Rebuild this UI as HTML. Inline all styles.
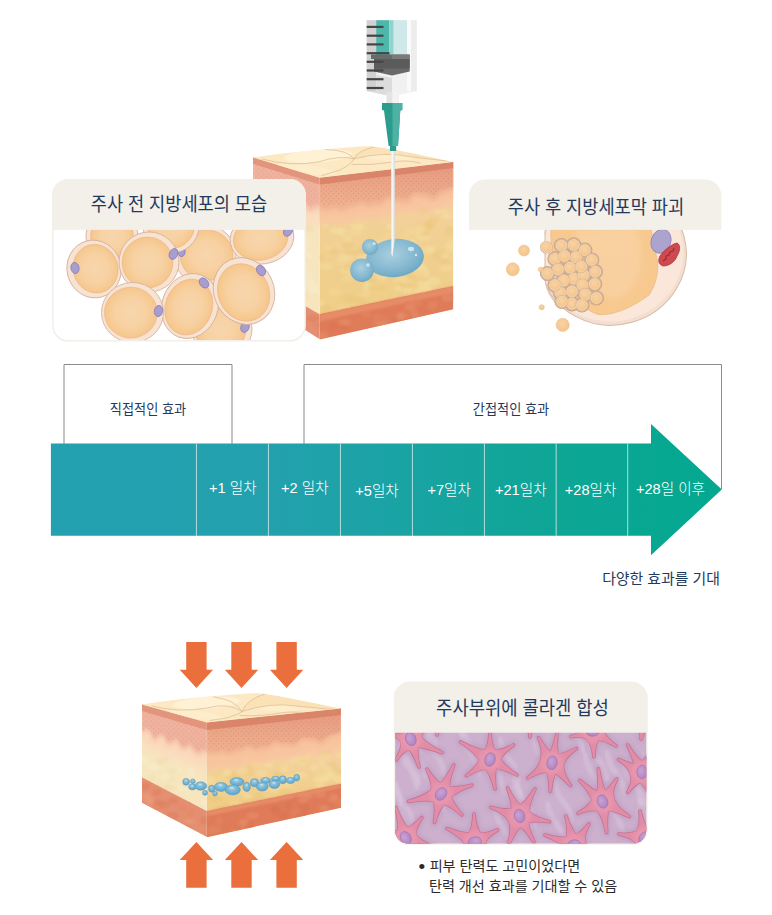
<!DOCTYPE html>
<html lang="ko"><head><meta charset="utf-8"><title>주사 효과 타임라인</title>
<style>
html,body{margin:0;padding:0;background:#fff;}
body{width:772px;height:915px;overflow:hidden;font-family:'Liberation Sans','Noto Sans CJK KR','NanumGothic',sans-serif;}
svg{display:block;}
</style></head><body>
<svg width="772" height="915" viewBox="0 0 772 915">
<defs>
<linearGradient id="gbar" x1="0" x2="1" y1="0" y2="0">
 <stop offset="0" stop-color="#24a0b1"/><stop offset="0.35" stop-color="#22a1ad"/><stop offset="0.75" stop-color="#0ea696"/><stop offset="1" stop-color="#03a88f"/>
</linearGradient>
<radialGradient id="gfat" cx="0.5" cy="0.5" r="0.55">
 <stop offset="0" stop-color="#f7d6ad"/><stop offset="0.55" stop-color="#f7d1a2"/><stop offset="0.85" stop-color="#f6c88e"/><stop offset="1" stop-color="#f3c083"/>
</radialGradient>
<radialGradient id="gblob" cx="0.45" cy="0.4" r="0.65">
 <stop offset="0" stop-color="#a9cfe0"/><stop offset="0.6" stop-color="#86b9d1"/><stop offset="1" stop-color="#6aa5c2"/>
</radialGradient>
<radialGradient id="gnuc" cx="0.4" cy="0.4" r="0.7"><stop offset="0" stop-color="#c9a3d3"/><stop offset="1" stop-color="#ab80be"/></radialGradient>
<radialGradient id="gblob2" cx="0.45" cy="0.35" r="0.7"><stop offset="0" stop-color="#9fd0e4"/><stop offset="0.55" stop-color="#74b3d3"/><stop offset="1" stop-color="#5a9ec4"/></radialGradient>
<radialGradient id="gsph" cx="0.45" cy="0.4" r="0.6">
 <stop offset="0" stop-color="#f9d3a4"/><stop offset="1" stop-color="#f5c388"/>
</radialGradient>
<filter id="blur2" x="-10%" y="-20%" width="120%" height="140%"><feGaussianBlur stdDeviation="2"/></filter>
<filter id="blur1" x="-10%" y="-20%" width="120%" height="140%"><feGaussianBlur stdDeviation="1"/></filter>
<filter id="blur3" x="-10%" y="-20%" width="120%" height="140%"><feGaussianBlur stdDeviation="3.5"/></filter>
<pattern id="dots" width="5" height="5" patternUnits="userSpaceOnUse"><circle cx="1.2" cy="1.2" r="0.7" fill="#dd7f68" opacity="0.55"/><circle cx="3.7" cy="3.7" r="0.7" fill="#dd7f68" opacity="0.55"/></pattern>
<pattern id="fatpat" width="14" height="12" patternUnits="userSpaceOnUse"><ellipse cx="4" cy="3.5" rx="4" ry="3" fill="#f8e0a4" opacity="0.55"/><ellipse cx="11" cy="9" rx="4" ry="3" fill="#f8e0a4" opacity="0.55"/></pattern>
<clipPath id="clipCard1"><path d="M53.600 229.500H304.400V325.600a14.500 14.500 0 0 1-14.500 14.500H68.100a14.500 14.500 0 0 1-14.500-14.500Z"/></clipPath>
<clipPath id="clipCard2"><rect x="470" y="229.500" width="253" height="115"/></clipPath>
<clipPath id="clipCard3"><path d="M395.200 732H646.200V830.500a13 13 0 0 1-13 13H408.200a13 13 0 0 1-13-13Z"/></clipPath>
</defs>
<g id="skinA">
<clipPath id="acr"><path d="M319.5 177.8L453.3 162L453.3 309.3L319.5 339.4Z"/></clipPath>
<clipPath id="acl"><path d="M253 157.5L320.3 177.8L320.3 339.4L253 297.5Z"/></clipPath>
<g clip-path="url(#acl)">
<path d="M319.5 177.8 L317.8 177.3 L316.2 176.8 L314.5 176.3 L312.9 175.8 L311.2 175.3 L309.5 174.8 L307.9 174.2 L306.2 173.7 L304.5 173.2 L302.9 172.7 L301.2 172.2 L299.6 171.7 L297.9 171.2 L296.2 170.7 L294.6 170.2 L292.9 169.7 L291.2 169.2 L289.6 168.7 L287.9 168.2 L286.2 167.7 L284.6 167.1 L282.9 166.6 L281.3 166.1 L279.6 165.6 L277.9 165.1 L276.3 164.6 L274.6 164.1 L272.9 163.6 L271.3 163.1 L269.6 162.6 L268.0 162.1 L266.3 161.6 L264.6 161.1 L263.0 160.5 L261.3 160.0 L259.6 159.5 L258.0 159.0 L256.3 158.5 L254.7 158.0 L253.0 157.5 L253.0 297.5 L254.7 298.5 L256.3 299.6 L258.0 300.6 L259.6 301.7 L261.3 302.7 L263.0 303.8 L264.6 304.8 L266.3 305.9 L268.0 306.9 L269.6 308.0 L271.3 309.0 L272.9 310.1 L274.6 311.1 L276.3 312.2 L277.9 313.2 L279.6 314.3 L281.3 315.3 L282.9 316.4 L284.6 317.4 L286.2 318.4 L287.9 319.5 L289.6 320.5 L291.2 321.6 L292.9 322.6 L294.6 323.7 L296.2 324.7 L297.9 325.8 L299.6 326.8 L301.2 327.9 L302.9 328.9 L304.5 330.0 L306.2 331.0 L307.9 332.1 L309.5 333.1 L311.2 334.2 L312.9 335.2 L314.5 336.3 L316.2 337.3 L317.8 338.4 L319.5 339.4Z" fill="#f6e5bd" />
<g filter="url(#blur1)"><ellipse cx="309.6" cy="274.0" rx="4.1" ry="3.9" fill="#f7e8c4" opacity="0.6"/><ellipse cx="307.4" cy="243.9" rx="5.0" ry="3.7" fill="#f7e8c4" opacity="0.6"/><ellipse cx="284.2" cy="261.7" rx="5.3" ry="4.3" fill="#f7e8c4" opacity="0.6"/><ellipse cx="266.9" cy="238.4" rx="5.3" ry="2.7" fill="#f9ecca" opacity="0.6"/><ellipse cx="273.6" cy="255.5" rx="5.0" ry="3.5" fill="#f9ecca" opacity="0.6"/><ellipse cx="272.0" cy="247.8" rx="5.2" ry="3.3" fill="#f1deb0" opacity="0.6"/><ellipse cx="274.9" cy="225.8" rx="3.8" ry="3.2" fill="#f7e8c4" opacity="0.6"/><ellipse cx="306.6" cy="255.6" rx="5.6" ry="4.2" fill="#f9ecca" opacity="0.6"/><ellipse cx="259.1" cy="212.6" rx="4.2" ry="3.7" fill="#f7e8c4" opacity="0.6"/><ellipse cx="299.9" cy="226.0" rx="5.7" ry="4.4" fill="#f1deb0" opacity="0.6"/><ellipse cx="264.6" cy="253.5" rx="5.1" ry="4.4" fill="#f1deb0" opacity="0.6"/><ellipse cx="261.4" cy="280.5" rx="5.3" ry="2.9" fill="#f9ecca" opacity="0.6"/><ellipse cx="270.1" cy="253.0" rx="6.7" ry="3.7" fill="#f7e8c4" opacity="0.6"/><ellipse cx="263.8" cy="231.1" rx="3.7" ry="2.7" fill="#f1deb0" opacity="0.6"/><ellipse cx="256.7" cy="212.0" rx="3.8" ry="4.2" fill="#f1deb0" opacity="0.6"/><ellipse cx="271.2" cy="238.2" rx="6.6" ry="2.8" fill="#f1deb0" opacity="0.6"/><ellipse cx="289.7" cy="268.1" rx="4.3" ry="3.3" fill="#f9ecca" opacity="0.6"/><ellipse cx="279.6" cy="251.9" rx="3.5" ry="3.0" fill="#f1deb0" opacity="0.6"/><ellipse cx="309.5" cy="229.1" rx="4.0" ry="3.3" fill="#f1deb0" opacity="0.6"/><ellipse cx="301.8" cy="254.9" rx="6.1" ry="3.4" fill="#f7e8c4" opacity="0.6"/><ellipse cx="299.7" cy="280.3" rx="4.2" ry="3.4" fill="#f1deb0" opacity="0.6"/><ellipse cx="281.5" cy="225.2" rx="6.1" ry="3.0" fill="#f9ecca" opacity="0.6"/><ellipse cx="260.0" cy="257.3" rx="5.8" ry="4.0" fill="#f7e8c4" opacity="0.6"/><ellipse cx="288.3" cy="210.9" rx="4.5" ry="2.9" fill="#f7e8c4" opacity="0.6"/><ellipse cx="291.1" cy="293.2" rx="4.3" ry="2.8" fill="#f9ecca" opacity="0.6"/><ellipse cx="277.1" cy="245.9" rx="6.4" ry="3.0" fill="#f9ecca" opacity="0.6"/><ellipse cx="271.1" cy="275.7" rx="3.7" ry="2.9" fill="#f9ecca" opacity="0.6"/><ellipse cx="310.5" cy="282.9" rx="4.9" ry="4.0" fill="#f9ecca" opacity="0.6"/><ellipse cx="256.0" cy="225.3" rx="4.0" ry="4.3" fill="#f1deb0" opacity="0.6"/><ellipse cx="274.2" cy="271.2" rx="6.0" ry="3.0" fill="#f1deb0" opacity="0.6"/><ellipse cx="259.6" cy="211.5" rx="7.0" ry="4.5" fill="#f9ecca" opacity="0.6"/><ellipse cx="315.1" cy="289.6" rx="6.1" ry="4.4" fill="#f9ecca" opacity="0.6"/><ellipse cx="302.4" cy="258.4" rx="5.5" ry="2.8" fill="#f1deb0" opacity="0.6"/><ellipse cx="301.4" cy="295.3" rx="6.6" ry="3.9" fill="#f1deb0" opacity="0.6"/><ellipse cx="282.7" cy="214.9" rx="5.9" ry="2.7" fill="#f7e8c4" opacity="0.6"/><ellipse cx="275.8" cy="282.6" rx="6.2" ry="3.9" fill="#f1deb0" opacity="0.6"/><ellipse cx="304.3" cy="295.3" rx="4.0" ry="3.2" fill="#f1deb0" opacity="0.6"/><ellipse cx="301.2" cy="238.3" rx="5.1" ry="2.9" fill="#f7e8c4" opacity="0.6"/><ellipse cx="305.9" cy="226.8" rx="5.9" ry="3.2" fill="#f1deb0" opacity="0.6"/><ellipse cx="283.8" cy="270.2" rx="5.6" ry="4.0" fill="#f1deb0" opacity="0.6"/><ellipse cx="253.4" cy="198.3" rx="5.1" ry="4.5" fill="#f1deb0" opacity="0.6"/><ellipse cx="284.3" cy="291.8" rx="3.7" ry="3.4" fill="#f7e8c4" opacity="0.6"/><ellipse cx="293.5" cy="250.7" rx="5.1" ry="3.3" fill="#f7e8c4" opacity="0.6"/><ellipse cx="304.2" cy="245.1" rx="6.3" ry="4.0" fill="#f7e8c4" opacity="0.6"/><ellipse cx="274.2" cy="281.4" rx="6.5" ry="3.8" fill="#f1deb0" opacity="0.6"/><ellipse cx="276.6" cy="215.3" rx="5.4" ry="4.1" fill="#f1deb0" opacity="0.6"/><ellipse cx="300.2" cy="260.3" rx="4.2" ry="2.7" fill="#f7e8c4" opacity="0.6"/><ellipse cx="307.9" cy="237.5" rx="5.9" ry="4.1" fill="#f7e8c4" opacity="0.6"/></g>
<path d="M319.5 314.2 L317.8 313.2 L316.2 312.3 L314.5 311.4 L312.9 310.4 L311.2 309.5 L309.5 308.5 L307.9 307.6 L306.2 306.7 L304.5 305.7 L302.9 304.8 L301.2 303.8 L299.6 302.9 L297.9 301.9 L296.2 301.0 L294.6 300.1 L292.9 299.1 L291.2 298.2 L289.6 297.2 L287.9 296.3 L286.2 295.3 L284.6 294.4 L282.9 293.5 L281.3 292.5 L279.6 291.6 L277.9 290.6 L276.3 289.7 L274.6 288.7 L272.9 287.8 L271.3 286.9 L269.6 285.9 L268.0 285.0 L266.3 284.0 L264.6 283.1 L263.0 282.2 L261.3 281.2 L259.6 280.3 L258.0 279.3 L256.3 278.4 L254.7 277.4 L253.0 276.5 L253.0 304.5 L254.7 305.6 L256.3 306.6 L258.0 307.7 L259.6 308.8 L261.3 309.9 L263.0 310.9 L264.6 312.0 L266.3 313.1 L268.0 314.2 L269.6 315.2 L271.3 316.3 L272.9 317.4 L274.6 318.5 L276.3 319.5 L277.9 320.6 L279.6 321.7 L281.3 322.8 L282.9 323.8 L284.6 324.9 L286.2 326.0 L287.9 327.1 L289.6 328.1 L291.2 329.2 L292.9 330.3 L294.6 331.4 L296.2 332.4 L297.9 333.5 L299.6 334.6 L301.2 335.7 L302.9 336.7 L304.5 337.8 L306.2 338.9 L307.9 340.0 L309.5 341.0 L311.2 342.1 L312.9 343.2 L314.5 344.3 L316.2 345.3 L317.8 346.4 L319.5 347.5Z" fill="#e48f72" />
<g filter="url(#blur1)"><ellipse cx="319.3" cy="325.7" rx="6.4" ry="3.7" fill="#e48763" opacity="0.5"/><ellipse cx="271.7" cy="298.0" rx="5.5" ry="2.8" fill="#e48763" opacity="0.5"/><ellipse cx="286.9" cy="311.2" rx="6.3" ry="2.5" fill="#e48763" opacity="0.5"/><ellipse cx="286.0" cy="317.4" rx="4.3" ry="3.3" fill="#e48763" opacity="0.5"/><ellipse cx="258.3" cy="300.3" rx="5.0" ry="4.0" fill="#e48763" opacity="0.5"/><ellipse cx="288.2" cy="309.8" rx="6.5" ry="4.3" fill="#de7d5a" opacity="0.5"/><ellipse cx="312.8" cy="318.5" rx="6.5" ry="3.5" fill="#de7d5a" opacity="0.5"/><ellipse cx="277.3" cy="308.6" rx="4.2" ry="3.3" fill="#e48763" opacity="0.5"/><ellipse cx="297.4" cy="323.0" rx="4.0" ry="2.5" fill="#de7d5a" opacity="0.5"/><ellipse cx="284.3" cy="314.4" rx="6.0" ry="4.4" fill="#e48763" opacity="0.5"/><ellipse cx="294.2" cy="314.2" rx="3.6" ry="4.4" fill="#ee9f7b" opacity="0.5"/><ellipse cx="270.2" cy="298.7" rx="5.7" ry="3.6" fill="#e48763" opacity="0.5"/><ellipse cx="301.5" cy="322.6" rx="3.8" ry="4.3" fill="#e48763" opacity="0.5"/><ellipse cx="295.8" cy="311.0" rx="4.8" ry="3.3" fill="#ee9f7b" opacity="0.5"/></g>
<path d="M319.5 174.6 L317.8 174.1 L316.2 173.6 L314.5 173.1 L312.9 172.6 L311.2 172.1 L309.5 171.6 L307.9 171.1 L306.2 170.6 L304.5 170.1 L302.9 169.6 L301.2 169.1 L299.6 168.6 L297.9 168.1 L296.2 167.6 L294.6 167.1 L292.9 166.6 L291.2 166.1 L289.6 165.6 L287.9 165.1 L286.2 164.6 L284.6 164.1 L282.9 163.6 L281.3 163.1 L279.6 162.6 L277.9 162.2 L276.3 161.7 L274.6 161.2 L272.9 160.7 L271.3 160.2 L269.6 159.7 L268.0 159.2 L266.3 158.7 L264.6 158.2 L263.0 157.7 L261.3 157.2 L259.6 156.7 L258.0 156.2 L256.3 155.7 L254.7 155.2 L253.0 154.7 L253.0 200.8 L254.7 200.7 L256.3 201.3 L258.0 203.4 L259.6 204.9 L261.3 204.6 L263.0 204.6 L264.6 205.8 L266.3 206.4 L268.0 205.9 L269.6 206.2 L271.3 208.1 L272.9 209.5 L274.6 209.4 L276.3 210.0 L277.9 211.7 L279.6 212.3 L281.3 211.5 L282.9 211.6 L284.6 213.2 L286.2 214.0 L287.9 213.9 L289.6 215.0 L291.2 217.1 L292.9 217.9 L294.6 217.3 L296.2 217.5 L297.9 218.7 L299.6 218.8 L301.2 218.4 L302.9 219.7 L304.5 222.0 L306.2 223.0 L307.9 222.9 L309.5 223.6 L311.2 224.6 L312.9 224.1 L314.5 223.3 L316.2 224.3 L317.8 226.6 L319.5 227.7Z" fill="#fbdcc0" filter="url(#blur3)"/>
<path d="M319.5 174.6 L317.8 174.1 L316.2 173.6 L314.5 173.1 L312.9 172.6 L311.2 172.1 L309.5 171.6 L307.9 171.1 L306.2 170.6 L304.5 170.1 L302.9 169.6 L301.2 169.1 L299.6 168.6 L297.9 168.1 L296.2 167.6 L294.6 167.1 L292.9 166.6 L291.2 166.1 L289.6 165.6 L287.9 165.1 L286.2 164.6 L284.6 164.1 L282.9 163.6 L281.3 163.1 L279.6 162.6 L277.9 162.2 L276.3 161.7 L274.6 161.2 L272.9 160.7 L271.3 160.2 L269.6 159.7 L268.0 159.2 L266.3 158.7 L264.6 158.2 L263.0 157.7 L261.3 157.2 L259.6 156.7 L258.0 156.2 L256.3 155.7 L254.7 155.2 L253.0 154.7 L253.0 192.4 L254.7 192.3 L256.3 192.8 L258.0 194.9 L259.6 196.4 L261.3 196.1 L263.0 196.0 L264.6 197.1 L266.3 197.8 L268.0 197.2 L269.6 197.5 L271.3 199.4 L272.9 200.7 L274.6 200.6 L276.3 201.2 L277.9 202.8 L279.6 203.3 L281.3 202.5 L282.9 202.6 L284.6 204.2 L286.2 204.9 L287.9 204.8 L289.6 205.9 L291.2 208.0 L292.9 208.7 L294.6 208.1 L296.2 208.3 L297.9 209.4 L299.6 209.5 L301.2 209.1 L302.9 210.3 L304.5 212.6 L306.2 213.6 L307.9 213.5 L309.5 214.1 L311.2 215.1 L312.9 214.6 L314.5 213.7 L316.2 214.7 L317.8 216.9 L319.5 218.0Z" fill="#fbd9bb" filter="url(#blur2)"/>
<path d="M319.5 174.6 L317.8 174.1 L316.2 173.6 L314.5 173.1 L312.9 172.6 L311.2 172.1 L309.5 171.6 L307.9 171.1 L306.2 170.6 L304.5 170.1 L302.9 169.6 L301.2 169.1 L299.6 168.6 L297.9 168.1 L296.2 167.6 L294.6 167.1 L292.9 166.6 L291.2 166.1 L289.6 165.6 L287.9 165.1 L286.2 164.6 L284.6 164.1 L282.9 163.6 L281.3 163.1 L279.6 162.6 L277.9 162.2 L276.3 161.7 L274.6 161.2 L272.9 160.7 L271.3 160.2 L269.6 159.7 L268.0 159.2 L266.3 158.7 L264.6 158.2 L263.0 157.7 L261.3 157.2 L259.6 156.7 L258.0 156.2 L256.3 155.7 L254.7 155.2 L253.0 154.7 L253.0 193.0 L254.7 189.6 L256.3 186.2 L258.0 186.4 L259.6 187.9 L261.3 188.9 L263.0 191.6 L264.6 196.2 L266.3 198.3 L268.0 195.9 L269.6 193.1 L271.3 192.7 L272.9 192.5 L274.6 192.0 L276.3 194.3 L277.9 199.4 L279.6 202.2 L281.3 201.2 L282.9 199.8 L284.6 199.6 L286.2 198.1 L287.9 196.1 L289.6 197.7 L291.2 202.3 L292.9 205.2 L294.6 205.4 L296.2 205.7 L297.9 206.3 L299.6 204.4 L301.2 201.5 L302.9 202.1 L304.5 205.6 L306.2 207.9 L307.9 208.7 L309.5 210.6 L311.2 212.2 L312.9 210.5 L314.5 207.5 L316.2 207.5 L317.8 209.8 L319.5 210.9Z" fill="#f1b8a2" filter="url(#blur2)" opacity="0.9"/>
<path d="M319.5 174.6 L317.8 174.1 L316.2 173.6 L314.5 173.1 L312.9 172.6 L311.2 172.1 L309.5 171.6 L307.9 171.1 L306.2 170.6 L304.5 170.1 L302.9 169.6 L301.2 169.1 L299.6 168.6 L297.9 168.1 L296.2 167.6 L294.6 167.1 L292.9 166.6 L291.2 166.1 L289.6 165.6 L287.9 165.1 L286.2 164.6 L284.6 164.1 L282.9 163.6 L281.3 163.1 L279.6 162.6 L277.9 162.2 L276.3 161.7 L274.6 161.2 L272.9 160.7 L271.3 160.2 L269.6 159.7 L268.0 159.2 L266.3 158.7 L264.6 158.2 L263.0 157.7 L261.3 157.2 L259.6 156.7 L258.0 156.2 L256.3 155.7 L254.7 155.2 L253.0 154.7 L253.0 187.2 L254.7 184.5 L256.3 181.9 L258.0 182.1 L259.6 183.5 L261.3 184.4 L263.0 186.6 L264.6 190.4 L266.3 192.1 L268.0 190.3 L269.6 188.2 L271.3 188.0 L272.9 187.9 L274.6 187.6 L276.3 189.6 L277.9 193.7 L279.6 196.1 L281.3 195.4 L282.9 194.4 L284.6 194.3 L286.2 193.2 L287.9 191.7 L289.6 193.1 L291.2 196.9 L292.9 199.3 L294.6 199.5 L296.2 199.9 L297.9 200.5 L299.6 199.0 L301.2 196.8 L302.9 197.4 L304.5 200.3 L306.2 202.2 L307.9 203.0 L309.5 204.6 L311.2 206.0 L312.9 204.7 L314.5 202.4 L316.2 202.5 L317.8 204.5 L319.5 205.4Z" fill="#efb29e" filter="url(#blur1)"/>
<path d="M319.5 177.8 L317.8 177.3 L316.2 176.8 L314.5 176.3 L312.9 175.8 L311.2 175.3 L309.5 174.8 L307.9 174.2 L306.2 173.7 L304.5 173.2 L302.9 172.7 L301.2 172.2 L299.6 171.7 L297.9 171.2 L296.2 170.7 L294.6 170.2 L292.9 169.7 L291.2 169.2 L289.6 168.7 L287.9 168.2 L286.2 167.7 L284.6 167.1 L282.9 166.6 L281.3 166.1 L279.6 165.6 L277.9 165.1 L276.3 164.6 L274.6 164.1 L272.9 163.6 L271.3 163.1 L269.6 162.6 L268.0 162.1 L266.3 161.6 L264.6 161.1 L263.0 160.5 L261.3 160.0 L259.6 159.5 L258.0 159.0 L256.3 158.5 L254.7 158.0 L253.0 157.5 L253.0 187.9 L254.7 185.2 L256.3 182.6 L258.0 182.9 L259.6 184.2 L261.3 185.1 L263.0 187.4 L264.6 191.2 L266.3 192.9 L268.0 191.0 L269.6 189.0 L271.3 188.7 L272.9 188.7 L274.6 188.3 L276.3 190.3 L277.9 194.5 L279.6 196.8 L281.3 196.1 L282.9 195.1 L284.6 195.1 L286.2 194.0 L287.9 192.5 L289.6 193.8 L291.2 197.6 L292.9 200.1 L294.6 200.3 L296.2 200.7 L297.9 201.2 L299.6 199.8 L301.2 197.6 L302.9 198.1 L304.5 201.1 L306.2 203.0 L307.9 203.7 L309.5 205.4 L311.2 206.8 L312.9 205.5 L314.5 203.2 L316.2 203.3 L317.8 205.3 L319.5 206.2Z" fill="url(#dots)" opacity="0.6"/>
<path d="M319.5 176.2 L317.8 175.7 L316.2 175.2 L314.5 174.7 L312.9 174.2 L311.2 173.7 L309.5 173.2 L307.9 172.7 L306.2 172.2 L304.5 171.7 L302.9 171.2 L301.2 170.7 L299.6 170.2 L297.9 169.7 L296.2 169.2 L294.6 168.7 L292.9 168.2 L291.2 167.6 L289.6 167.1 L287.9 166.6 L286.2 166.1 L284.6 165.6 L282.9 165.1 L281.3 164.6 L279.6 164.1 L277.9 163.6 L276.3 163.1 L274.6 162.6 L272.9 162.1 L271.3 161.6 L269.6 161.1 L268.0 160.6 L266.3 160.1 L264.6 159.6 L263.0 159.1 L261.3 158.6 L259.6 158.1 L258.0 157.6 L256.3 157.1 L254.7 156.6 L253.0 156.1 L253.0 163.8 L254.7 164.3 L256.3 164.8 L258.0 165.4 L259.6 165.9 L261.3 166.4 L263.0 166.9 L264.6 167.4 L266.3 168.0 L268.0 168.5 L269.6 169.0 L271.3 169.5 L272.9 170.0 L274.6 170.6 L276.3 171.1 L277.9 171.6 L279.6 172.1 L281.3 172.6 L282.9 173.2 L284.6 173.7 L286.2 174.2 L287.9 174.7 L289.6 175.2 L291.2 175.8 L292.9 176.3 L294.6 176.8 L296.2 177.3 L297.9 177.8 L299.6 178.4 L301.2 178.9 L302.9 179.4 L304.5 179.9 L306.2 180.4 L307.9 180.9 L309.5 181.5 L311.2 182.0 L312.9 182.5 L314.5 183.0 L316.2 183.5 L317.8 184.1 L319.5 184.6Z" fill="#e2957c" />
</g>
<g clip-path="url(#acr)">
<linearGradient id="agf" x1="0" x2="0" y1="0" y2="1"><stop offset="0.24" stop-color="#f5cf9f"/><stop offset="0.38" stop-color="#f1d094"/><stop offset="0.84" stop-color="#efce86"/></linearGradient>
<linearGradient id="agd" x1="0" x2="0" y1="0" y2="1"><stop offset="0.1" stop-color="#e59a81"/><stop offset="1" stop-color="#efb28f"/></linearGradient>
<path d="M319.5 177.8 L322.8 177.4 L326.2 177.0 L329.5 176.6 L332.9 176.2 L336.2 175.8 L339.6 175.4 L342.9 175.0 L346.3 174.6 L349.6 174.2 L352.9 173.9 L356.3 173.5 L359.6 173.1 L363.0 172.7 L366.3 172.3 L369.7 171.9 L373.0 171.5 L376.4 171.1 L379.7 170.7 L383.1 170.3 L386.4 169.9 L389.7 169.5 L393.1 169.1 L396.4 168.7 L399.8 168.3 L403.1 167.9 L406.5 167.5 L409.8 167.1 L413.2 166.7 L416.5 166.3 L419.9 165.9 L423.2 165.6 L426.5 165.2 L429.9 164.8 L433.2 164.4 L436.6 164.0 L439.9 163.6 L443.3 163.2 L446.6 162.8 L450.0 162.4 L453.3 162.0 L453.3 309.3 L450.0 310.1 L446.6 310.8 L443.3 311.6 L439.9 312.3 L436.6 313.1 L433.2 313.8 L429.9 314.6 L426.5 315.3 L423.2 316.1 L419.9 316.8 L416.5 317.6 L413.2 318.3 L409.8 319.1 L406.5 319.8 L403.1 320.6 L399.8 321.3 L396.4 322.1 L393.1 322.8 L389.7 323.6 L386.4 324.4 L383.1 325.1 L379.7 325.9 L376.4 326.6 L373.0 327.4 L369.7 328.1 L366.3 328.9 L363.0 329.6 L359.6 330.4 L356.3 331.1 L352.9 331.9 L349.6 332.6 L346.3 333.4 L342.9 334.1 L339.6 334.9 L336.2 335.6 L332.9 336.4 L329.5 337.1 L326.2 337.9 L322.8 338.6 L319.5 339.4Z" fill="url(#agf)" />
<g filter="url(#blur1)"><ellipse cx="370.6" cy="272.6" rx="4.1" ry="4.3" fill="#f6dfa4" opacity="0.5"/><ellipse cx="417.7" cy="291.8" rx="4.1" ry="3.2" fill="#f6dfa4" opacity="0.5"/><ellipse cx="381.4" cy="287.8" rx="5.3" ry="2.5" fill="#ecc87e" opacity="0.5"/><ellipse cx="343.6" cy="308.5" rx="6.7" ry="4.0" fill="#f4d896" opacity="0.5"/><ellipse cx="427.1" cy="285.0" rx="3.5" ry="4.0" fill="#f6dfa4" opacity="0.5"/><ellipse cx="431.1" cy="250.8" rx="4.1" ry="3.7" fill="#f4d896" opacity="0.5"/><ellipse cx="397.1" cy="278.9" rx="5.2" ry="4.3" fill="#f4d896" opacity="0.5"/><ellipse cx="347.2" cy="279.2" rx="6.4" ry="3.3" fill="#f4d896" opacity="0.5"/><ellipse cx="416.2" cy="268.3" rx="4.1" ry="3.2" fill="#f5dc9e" opacity="0.5"/><ellipse cx="420.0" cy="237.1" rx="4.0" ry="3.6" fill="#f5dc9e" opacity="0.5"/><ellipse cx="326.8" cy="308.4" rx="5.9" ry="3.6" fill="#ecc87e" opacity="0.5"/><ellipse cx="333.2" cy="251.4" rx="5.3" ry="2.9" fill="#ecc87e" opacity="0.5"/><ellipse cx="404.8" cy="236.7" rx="5.1" ry="3.1" fill="#f4d896" opacity="0.5"/><ellipse cx="347.1" cy="245.4" rx="6.4" ry="3.3" fill="#ecc87e" opacity="0.5"/><ellipse cx="365.3" cy="273.3" rx="4.5" ry="4.2" fill="#ecc87e" opacity="0.5"/><ellipse cx="433.8" cy="281.2" rx="6.7" ry="4.3" fill="#f6dfa4" opacity="0.5"/><ellipse cx="412.6" cy="242.9" rx="3.9" ry="4.3" fill="#f6dfa4" opacity="0.5"/><ellipse cx="450.8" cy="244.5" rx="6.4" ry="4.3" fill="#f5dc9e" opacity="0.5"/><ellipse cx="334.8" cy="291.7" rx="6.8" ry="4.5" fill="#f4d896" opacity="0.5"/><ellipse cx="438.5" cy="255.2" rx="6.5" ry="4.5" fill="#ecc87e" opacity="0.5"/><ellipse cx="422.1" cy="268.2" rx="5.2" ry="3.7" fill="#f6dfa4" opacity="0.5"/><ellipse cx="425.9" cy="273.4" rx="3.7" ry="4.4" fill="#f6dfa4" opacity="0.5"/><ellipse cx="335.8" cy="230.5" rx="6.8" ry="3.3" fill="#f6dfa4" opacity="0.5"/><ellipse cx="328.9" cy="265.7" rx="6.1" ry="4.0" fill="#f4d896" opacity="0.5"/><ellipse cx="390.8" cy="226.4" rx="4.9" ry="3.8" fill="#f6dfa4" opacity="0.5"/><ellipse cx="402.5" cy="278.4" rx="4.5" ry="3.5" fill="#f5dc9e" opacity="0.5"/><ellipse cx="413.8" cy="252.3" rx="4.9" ry="3.0" fill="#f4d896" opacity="0.5"/><ellipse cx="347.8" cy="222.6" rx="6.0" ry="2.7" fill="#f4d896" opacity="0.5"/><ellipse cx="427.1" cy="227.4" rx="6.9" ry="2.9" fill="#ecc87e" opacity="0.5"/><ellipse cx="343.1" cy="258.1" rx="5.6" ry="4.2" fill="#f6dfa4" opacity="0.5"/><ellipse cx="416.3" cy="233.3" rx="3.8" ry="4.0" fill="#f4d896" opacity="0.5"/><ellipse cx="320.3" cy="302.5" rx="4.2" ry="3.7" fill="#f5dc9e" opacity="0.5"/><ellipse cx="407.5" cy="290.4" rx="5.8" ry="2.8" fill="#f6dfa4" opacity="0.5"/><ellipse cx="409.4" cy="231.0" rx="6.4" ry="4.5" fill="#f4d896" opacity="0.5"/><ellipse cx="403.6" cy="284.8" rx="7.0" ry="3.0" fill="#ecc87e" opacity="0.5"/><ellipse cx="405.9" cy="213.3" rx="7.0" ry="3.3" fill="#f4d896" opacity="0.5"/><ellipse cx="350.2" cy="256.7" rx="3.9" ry="4.4" fill="#f5dc9e" opacity="0.5"/><ellipse cx="352.2" cy="275.1" rx="6.1" ry="3.0" fill="#f4d896" opacity="0.5"/><ellipse cx="445.4" cy="262.8" rx="5.1" ry="3.9" fill="#ecc87e" opacity="0.5"/><ellipse cx="368.2" cy="284.2" rx="4.3" ry="3.3" fill="#f6dfa4" opacity="0.5"/><ellipse cx="364.4" cy="278.4" rx="6.2" ry="2.6" fill="#f6dfa4" opacity="0.5"/><ellipse cx="380.1" cy="251.2" rx="6.6" ry="4.1" fill="#f4d896" opacity="0.5"/><ellipse cx="360.7" cy="227.3" rx="5.2" ry="3.4" fill="#f4d896" opacity="0.5"/><ellipse cx="346.5" cy="270.2" rx="6.1" ry="3.4" fill="#f6dfa4" opacity="0.5"/><ellipse cx="348.0" cy="238.5" rx="5.1" ry="3.2" fill="#f5dc9e" opacity="0.5"/><ellipse cx="365.0" cy="264.5" rx="6.8" ry="3.8" fill="#f5dc9e" opacity="0.5"/><ellipse cx="355.6" cy="232.8" rx="7.0" ry="3.1" fill="#f5dc9e" opacity="0.5"/><ellipse cx="449.8" cy="230.7" rx="4.5" ry="4.5" fill="#ecc87e" opacity="0.5"/><ellipse cx="363.1" cy="257.7" rx="5.5" ry="4.5" fill="#f6dfa4" opacity="0.5"/><ellipse cx="324.7" cy="223.8" rx="3.9" ry="4.3" fill="#f6dfa4" opacity="0.5"/><ellipse cx="349.4" cy="298.2" rx="6.7" ry="4.3" fill="#ecc87e" opacity="0.5"/><ellipse cx="341.2" cy="231.6" rx="4.9" ry="4.5" fill="#f6dfa4" opacity="0.5"/><ellipse cx="370.7" cy="280.2" rx="3.8" ry="3.3" fill="#ecc87e" opacity="0.5"/><ellipse cx="351.0" cy="252.7" rx="6.6" ry="3.0" fill="#ecc87e" opacity="0.5"/><ellipse cx="436.3" cy="222.5" rx="5.2" ry="2.9" fill="#f5dc9e" opacity="0.5"/><ellipse cx="428.2" cy="224.1" rx="5.7" ry="3.2" fill="#ecc87e" opacity="0.5"/><ellipse cx="381.6" cy="276.9" rx="5.4" ry="3.9" fill="#f6dfa4" opacity="0.5"/><ellipse cx="446.7" cy="216.5" rx="5.8" ry="2.9" fill="#f6dfa4" opacity="0.5"/><ellipse cx="423.5" cy="209.4" rx="5.7" ry="3.8" fill="#ecc87e" opacity="0.5"/><ellipse cx="366.0" cy="289.1" rx="3.7" ry="3.2" fill="#f5dc9e" opacity="0.5"/><ellipse cx="320.7" cy="257.5" rx="3.9" ry="2.5" fill="#ecc87e" opacity="0.5"/><ellipse cx="425.0" cy="232.5" rx="3.9" ry="3.2" fill="#ecc87e" opacity="0.5"/><ellipse cx="349.9" cy="268.2" rx="6.9" ry="3.0" fill="#ecc87e" opacity="0.5"/><ellipse cx="412.6" cy="276.3" rx="5.1" ry="2.5" fill="#ecc87e" opacity="0.5"/><ellipse cx="421.1" cy="229.4" rx="5.5" ry="4.2" fill="#f5dc9e" opacity="0.5"/><ellipse cx="340.8" cy="261.5" rx="5.9" ry="4.2" fill="#f4d896" opacity="0.5"/><ellipse cx="371.3" cy="250.6" rx="5.7" ry="2.5" fill="#f4d896" opacity="0.5"/><ellipse cx="428.8" cy="249.4" rx="6.5" ry="3.9" fill="#f6dfa4" opacity="0.5"/><ellipse cx="425.7" cy="238.1" rx="5.5" ry="2.9" fill="#f5dc9e" opacity="0.5"/><ellipse cx="430.0" cy="286.9" rx="4.5" ry="3.6" fill="#f4d896" opacity="0.5"/><ellipse cx="419.3" cy="273.3" rx="5.8" ry="3.7" fill="#f4d896" opacity="0.5"/><ellipse cx="338.5" cy="245.3" rx="3.9" ry="3.7" fill="#f4d896" opacity="0.5"/><ellipse cx="357.4" cy="226.6" rx="6.8" ry="3.6" fill="#f6dfa4" opacity="0.5"/><ellipse cx="377.7" cy="244.0" rx="6.2" ry="4.3" fill="#f5dc9e" opacity="0.5"/><ellipse cx="390.4" cy="266.8" rx="3.7" ry="3.7" fill="#f5dc9e" opacity="0.5"/><ellipse cx="444.6" cy="255.9" rx="4.6" ry="3.1" fill="#f5dc9e" opacity="0.5"/><ellipse cx="324.8" cy="266.2" rx="6.0" ry="2.8" fill="#f5dc9e" opacity="0.5"/><ellipse cx="371.8" cy="288.3" rx="3.6" ry="2.7" fill="#ecc87e" opacity="0.5"/><ellipse cx="418.7" cy="265.6" rx="6.6" ry="4.0" fill="#f6dfa4" opacity="0.5"/><ellipse cx="437.7" cy="211.1" rx="3.7" ry="3.1" fill="#f6dfa4" opacity="0.5"/><ellipse cx="425.3" cy="289.3" rx="6.8" ry="3.8" fill="#f6dfa4" opacity="0.5"/><ellipse cx="327.7" cy="248.2" rx="5.4" ry="3.4" fill="#f4d896" opacity="0.5"/><ellipse cx="398.2" cy="288.2" rx="3.7" ry="3.0" fill="#f6dfa4" opacity="0.5"/><ellipse cx="397.2" cy="259.7" rx="5.2" ry="2.6" fill="#f4d896" opacity="0.5"/><ellipse cx="383.8" cy="251.9" rx="3.6" ry="3.5" fill="#f6dfa4" opacity="0.5"/><ellipse cx="446.0" cy="268.2" rx="6.6" ry="4.1" fill="#f5dc9e" opacity="0.5"/><ellipse cx="405.7" cy="281.0" rx="4.8" ry="3.3" fill="#f4d896" opacity="0.5"/><ellipse cx="364.7" cy="294.5" rx="5.5" ry="3.1" fill="#f4d896" opacity="0.5"/><ellipse cx="445.0" cy="211.6" rx="4.1" ry="3.4" fill="#f5dc9e" opacity="0.5"/><ellipse cx="388.8" cy="234.8" rx="5.9" ry="2.8" fill="#f4d896" opacity="0.5"/><ellipse cx="361.7" cy="251.0" rx="3.8" ry="4.3" fill="#ecc87e" opacity="0.5"/><ellipse cx="421.7" cy="284.6" rx="4.6" ry="4.0" fill="#f6dfa4" opacity="0.5"/><ellipse cx="392.3" cy="247.3" rx="5.2" ry="4.4" fill="#f5dc9e" opacity="0.5"/><ellipse cx="450.6" cy="248.0" rx="5.2" ry="4.2" fill="#f5dc9e" opacity="0.5"/><ellipse cx="384.6" cy="240.1" rx="4.7" ry="3.7" fill="#f4d896" opacity="0.5"/><ellipse cx="433.3" cy="221.6" rx="6.0" ry="4.4" fill="#ecc87e" opacity="0.5"/><ellipse cx="359.8" cy="300.8" rx="6.2" ry="3.5" fill="#ecc87e" opacity="0.5"/></g>
<path d="M319.5 314.2 L322.8 313.5 L326.2 312.8 L329.5 312.1 L332.9 311.4 L336.2 310.7 L339.6 310.0 L342.9 309.3 L346.3 308.6 L349.6 307.9 L352.9 307.1 L356.3 306.4 L359.6 305.7 L363.0 305.0 L366.3 304.3 L369.7 303.6 L373.0 302.9 L376.4 302.2 L379.7 301.5 L383.1 300.8 L386.4 300.1 L389.7 299.4 L393.1 298.7 L396.4 298.0 L399.8 297.3 L403.1 296.6 L406.5 295.9 L409.8 295.2 L413.2 294.5 L416.5 293.8 L419.9 293.1 L423.2 292.4 L426.5 291.7 L429.9 291.0 L433.2 290.3 L436.6 289.5 L439.9 288.8 L443.3 288.1 L446.6 287.4 L450.0 286.7 L453.3 286.0 L453.3 316.7 L450.0 317.4 L446.6 318.2 L443.3 319.0 L439.9 319.7 L436.6 320.5 L433.2 321.3 L429.9 322.1 L426.5 322.8 L423.2 323.6 L419.9 324.4 L416.5 325.1 L413.2 325.9 L409.8 326.7 L406.5 327.5 L403.1 328.2 L399.8 329.0 L396.4 329.8 L393.1 330.5 L389.7 331.3 L386.4 332.1 L383.1 332.8 L379.7 333.6 L376.4 334.4 L373.0 335.2 L369.7 335.9 L366.3 336.7 L363.0 337.5 L359.6 338.2 L356.3 339.0 L352.9 339.8 L349.6 340.5 L346.3 341.3 L342.9 342.1 L339.6 342.9 L336.2 343.6 L332.9 344.4 L329.5 345.2 L326.2 345.9 L322.8 346.7 L319.5 347.5Z" fill="#df7b58" />
<path d="M319.5 314.2 L322.8 313.5 L326.2 312.8 L329.5 312.1 L332.9 311.4 L336.2 310.7 L339.6 310.0 L342.9 309.3 L346.3 308.6 L349.6 307.9 L352.9 307.1 L356.3 306.4 L359.6 305.7 L363.0 305.0 L366.3 304.3 L369.7 303.6 L373.0 302.9 L376.4 302.2 L379.7 301.5 L383.1 300.8 L386.4 300.1 L389.7 299.4 L393.1 298.7 L396.4 298.0 L399.8 297.3 L403.1 296.6 L406.5 295.9 L409.8 295.2 L413.2 294.5 L416.5 293.8 L419.9 293.1 L423.2 292.4 L426.5 291.7 L429.9 291.0 L433.2 290.3 L436.6 289.5 L439.9 288.8 L443.3 288.1 L446.6 287.4 L450.0 286.7 L453.3 286.0 L453.3 292.7 L450.0 293.4 L446.6 294.1 L443.3 294.8 L439.9 295.5 L436.6 296.3 L433.2 297.0 L429.9 297.7 L426.5 298.4 L423.2 299.1 L419.9 299.9 L416.5 300.6 L413.2 301.3 L409.8 302.0 L406.5 302.7 L403.1 303.5 L399.8 304.2 L396.4 304.9 L393.1 305.6 L389.7 306.3 L386.4 307.1 L383.1 307.8 L379.7 308.5 L376.4 309.2 L373.0 309.9 L369.7 310.7 L366.3 311.4 L363.0 312.1 L359.6 312.8 L356.3 313.5 L352.9 314.3 L349.6 315.0 L346.3 315.7 L342.9 316.4 L339.6 317.1 L336.2 317.9 L332.9 318.6 L329.5 319.3 L326.2 320.0 L322.8 320.7 L319.5 321.5Z" fill="#ea9470" opacity="0.7" filter="url(#blur1)"/>
<g filter="url(#blur1)"><ellipse cx="376.2" cy="323.0" rx="4.4" ry="3.5" fill="#e48763" opacity="0.5"/><ellipse cx="433.7" cy="303.1" rx="5.3" ry="3.2" fill="#e48763" opacity="0.5"/><ellipse cx="378.3" cy="316.8" rx="5.6" ry="2.9" fill="#e48763" opacity="0.5"/><ellipse cx="409.9" cy="304.6" rx="4.6" ry="2.6" fill="#d97250" opacity="0.5"/><ellipse cx="359.2" cy="324.4" rx="6.5" ry="3.8" fill="#e8926c" opacity="0.5"/><ellipse cx="322.4" cy="335.7" rx="6.1" ry="3.9" fill="#e8926c" opacity="0.5"/><ellipse cx="385.3" cy="321.8" rx="4.1" ry="4.1" fill="#e48763" opacity="0.5"/><ellipse cx="381.3" cy="323.6" rx="5.6" ry="2.6" fill="#e8926c" opacity="0.5"/><ellipse cx="399.1" cy="321.4" rx="5.9" ry="2.6" fill="#d97250" opacity="0.5"/><ellipse cx="344.0" cy="327.5" rx="4.1" ry="2.8" fill="#d97250" opacity="0.5"/><ellipse cx="410.1" cy="308.3" rx="6.9" ry="2.8" fill="#e48763" opacity="0.5"/><ellipse cx="416.2" cy="303.1" rx="5.9" ry="3.5" fill="#e48763" opacity="0.5"/><ellipse cx="400.0" cy="315.6" rx="3.8" ry="3.5" fill="#e8926c" opacity="0.5"/><ellipse cx="446.6" cy="297.8" rx="4.9" ry="4.3" fill="#e8926c" opacity="0.5"/><ellipse cx="431.7" cy="306.8" rx="5.1" ry="3.9" fill="#e48763" opacity="0.5"/><ellipse cx="359.2" cy="324.2" rx="6.2" ry="3.3" fill="#d97250" opacity="0.5"/><ellipse cx="405.2" cy="317.2" rx="4.2" ry="3.0" fill="#d97250" opacity="0.5"/><ellipse cx="403.6" cy="315.9" rx="5.4" ry="2.9" fill="#e8926c" opacity="0.5"/><ellipse cx="415.4" cy="315.7" rx="3.8" ry="2.7" fill="#e8926c" opacity="0.5"/><ellipse cx="333.2" cy="326.0" rx="5.0" ry="4.4" fill="#d97250" opacity="0.5"/><ellipse cx="413.4" cy="311.5" rx="4.1" ry="4.3" fill="#e48763" opacity="0.5"/><ellipse cx="409.6" cy="305.7" rx="4.4" ry="3.1" fill="#e8926c" opacity="0.5"/><ellipse cx="366.3" cy="313.9" rx="5.0" ry="4.5" fill="#e48763" opacity="0.5"/><ellipse cx="450.0" cy="297.7" rx="5.9" ry="4.1" fill="#e48763" opacity="0.5"/><ellipse cx="345.3" cy="322.3" rx="6.3" ry="3.6" fill="#e8926c" opacity="0.5"/><ellipse cx="400.8" cy="318.2" rx="3.9" ry="3.4" fill="#e8926c" opacity="0.5"/></g>
<path d="M319.5 174.6 L322.8 174.2 L326.2 173.8 L329.5 173.4 L332.9 173.0 L336.2 172.6 L339.6 172.2 L342.9 171.9 L346.3 171.5 L349.6 171.1 L352.9 170.7 L356.3 170.3 L359.6 169.9 L363.0 169.5 L366.3 169.1 L369.7 168.8 L373.0 168.4 L376.4 168.0 L379.7 167.6 L383.1 167.2 L386.4 166.8 L389.7 166.4 L393.1 166.0 L396.4 165.6 L399.8 165.3 L403.1 164.9 L406.5 164.5 L409.8 164.1 L413.2 163.7 L416.5 163.3 L419.9 162.9 L423.2 162.5 L426.5 162.2 L429.9 161.8 L433.2 161.4 L436.6 161.0 L439.9 160.6 L443.3 160.2 L446.6 159.8 L450.0 159.4 L453.3 159.1 L453.3 205.0 L450.0 204.7 L446.6 206.1 L443.3 207.9 L439.9 208.0 L436.6 207.8 L433.2 208.9 L429.9 209.9 L426.5 209.2 L423.2 208.6 L419.9 209.8 L416.5 211.2 L413.2 211.3 L409.8 211.6 L406.5 213.4 L403.1 214.5 L399.8 213.7 L396.4 213.1 L393.1 214.0 L389.7 214.7 L386.4 214.4 L383.1 215.1 L379.7 217.3 L376.4 218.7 L373.0 218.2 L369.7 217.9 L366.3 218.6 L363.0 218.6 L359.6 217.8 L356.3 218.3 L352.9 220.7 L349.6 222.3 L346.3 222.4 L342.9 222.7 L339.6 223.6 L336.2 223.1 L332.9 221.6 L329.5 221.8 L326.2 223.9 L322.8 225.5 L319.5 226.0Z" fill="#f8c6a1" filter="url(#blur2)"/>
<path d="M319.5 174.6 L322.8 174.2 L326.2 173.8 L329.5 173.4 L332.9 173.0 L336.2 172.6 L339.6 172.2 L342.9 171.9 L346.3 171.5 L349.6 171.1 L352.9 170.7 L356.3 170.3 L359.6 169.9 L363.0 169.5 L366.3 169.1 L369.7 168.8 L373.0 168.4 L376.4 168.0 L379.7 167.6 L383.1 167.2 L386.4 166.8 L389.7 166.4 L393.1 166.0 L396.4 165.6 L399.8 165.3 L403.1 164.9 L406.5 164.5 L409.8 164.1 L413.2 163.7 L416.5 163.3 L419.9 162.9 L423.2 162.5 L426.5 162.2 L429.9 161.8 L433.2 161.4 L436.6 161.0 L439.9 160.6 L443.3 160.2 L446.6 159.8 L450.0 159.4 L453.3 159.1 L453.3 199.1 L450.0 198.8 L446.6 200.2 L443.3 201.9 L439.9 202.0 L436.6 201.9 L433.2 203.0 L429.9 203.9 L426.5 203.2 L423.2 202.6 L419.9 203.8 L416.5 205.2 L413.2 205.2 L409.8 205.6 L406.5 207.3 L403.1 208.4 L399.8 207.6 L396.4 206.9 L393.1 207.8 L389.7 208.5 L386.4 208.2 L383.1 208.9 L379.7 211.1 L376.4 212.5 L373.0 212.0 L369.7 211.6 L366.3 212.3 L363.0 212.3 L359.6 211.5 L356.3 212.0 L352.9 214.4 L349.6 216.0 L346.3 216.1 L342.9 216.4 L339.6 217.2 L336.2 216.7 L332.9 215.2 L329.5 215.4 L326.2 217.5 L322.8 219.0 L319.5 219.6Z" fill="#f8c49e" filter="url(#blur1)"/>
<path d="M319.5 174.6 L322.8 174.2 L326.2 173.8 L329.5 173.4 L332.9 173.0 L336.2 172.6 L339.6 172.2 L342.9 171.9 L346.3 171.5 L349.6 171.1 L352.9 170.7 L356.3 170.3 L359.6 169.9 L363.0 169.5 L366.3 169.1 L369.7 168.8 L373.0 168.4 L376.4 168.0 L379.7 167.6 L383.1 167.2 L386.4 166.8 L389.7 166.4 L393.1 166.0 L396.4 165.6 L399.8 165.3 L403.1 164.9 L406.5 164.5 L409.8 164.1 L413.2 163.7 L416.5 163.3 L419.9 162.9 L423.2 162.5 L426.5 162.2 L429.9 161.8 L433.2 161.4 L436.6 161.0 L439.9 160.6 L443.3 160.2 L446.6 159.8 L450.0 159.4 L453.3 159.1 L453.3 191.1 L450.0 191.3 L446.6 192.8 L443.3 193.2 L439.9 194.6 L436.6 198.4 L433.2 200.6 L429.9 198.8 L426.5 196.5 L423.2 196.6 L419.9 196.8 L416.5 195.8 L413.2 196.8 L409.8 200.7 L406.5 203.2 L403.1 202.3 L399.8 201.3 L396.4 202.0 L393.1 201.5 L389.7 199.5 L386.4 199.8 L383.1 203.2 L379.7 205.3 L376.4 205.0 L373.0 205.3 L369.7 206.9 L366.3 206.3 L363.0 203.9 L359.6 203.8 L356.3 206.3 L352.9 207.6 L349.6 207.2 L346.3 208.5 L342.9 210.9 L339.6 210.6 L336.2 208.5 L332.9 208.6 L329.5 210.3 L326.2 210.4 L322.8 209.6 L319.5 211.3Z" fill="#eeb091" filter="url(#blur2)" opacity="0.9"/>
<path d="M319.5 174.6 L322.8 174.2 L326.2 173.8 L329.5 173.4 L332.9 173.0 L336.2 172.6 L339.6 172.2 L342.9 171.9 L346.3 171.5 L349.6 171.1 L352.9 170.7 L356.3 170.3 L359.6 169.9 L363.0 169.5 L366.3 169.1 L369.7 168.8 L373.0 168.4 L376.4 168.0 L379.7 167.6 L383.1 167.2 L386.4 166.8 L389.7 166.4 L393.1 166.0 L396.4 165.6 L399.8 165.3 L403.1 164.9 L406.5 164.5 L409.8 164.1 L413.2 163.7 L416.5 163.3 L419.9 162.9 L423.2 162.5 L426.5 162.2 L429.9 161.8 L433.2 161.4 L436.6 161.0 L439.9 160.6 L443.3 160.2 L446.6 159.8 L450.0 159.4 L453.3 159.1 L453.3 187.0 L450.0 187.1 L446.6 188.5 L443.3 188.9 L439.9 190.3 L436.6 193.7 L433.2 195.7 L429.9 194.1 L426.5 192.1 L423.2 192.2 L419.9 192.4 L416.5 191.6 L413.2 192.5 L409.8 196.0 L406.5 198.3 L403.1 197.6 L399.8 196.7 L396.4 197.3 L393.1 196.9 L389.7 195.1 L386.4 195.5 L383.1 198.5 L379.7 200.5 L376.4 200.2 L373.0 200.6 L369.7 202.0 L366.3 201.5 L363.0 199.4 L359.6 199.4 L356.3 201.7 L352.9 202.8 L349.6 202.5 L346.3 203.7 L342.9 205.9 L339.6 205.7 L336.2 203.8 L332.9 203.9 L329.5 205.5 L326.2 205.6 L322.8 205.0 L319.5 206.5Z" fill="url(#agd)" filter="url(#blur1)"/>
<path d="M319.5 177.8 L322.8 177.4 L326.2 177.0 L329.5 176.6 L332.9 176.2 L336.2 175.8 L339.6 175.4 L342.9 175.0 L346.3 174.6 L349.6 174.2 L352.9 173.9 L356.3 173.5 L359.6 173.1 L363.0 172.7 L366.3 172.3 L369.7 171.9 L373.0 171.5 L376.4 171.1 L379.7 170.7 L383.1 170.3 L386.4 169.9 L389.7 169.5 L393.1 169.1 L396.4 168.7 L399.8 168.3 L403.1 167.9 L406.5 167.5 L409.8 167.1 L413.2 166.7 L416.5 166.3 L419.9 165.9 L423.2 165.6 L426.5 165.2 L429.9 164.8 L433.2 164.4 L436.6 164.0 L439.9 163.6 L443.3 163.2 L446.6 162.8 L450.0 162.4 L453.3 162.0 L453.3 187.2 L450.0 187.4 L446.6 188.7 L443.3 189.1 L439.9 190.3 L436.6 193.4 L433.2 195.2 L429.9 193.9 L426.5 192.1 L423.2 192.3 L419.9 192.5 L416.5 191.8 L413.2 192.7 L409.8 195.9 L406.5 198.0 L403.1 197.4 L399.8 196.7 L396.4 197.2 L393.1 196.9 L389.7 195.4 L386.4 195.8 L383.1 198.5 L379.7 200.3 L376.4 200.1 L373.0 200.5 L369.7 201.8 L366.3 201.4 L363.0 199.6 L359.6 199.6 L356.3 201.7 L352.9 202.8 L349.6 202.6 L346.3 203.7 L342.9 205.6 L339.6 205.5 L336.2 203.9 L332.9 204.0 L329.5 205.5 L326.2 205.7 L322.8 205.1 L319.5 206.5Z" fill="url(#dots)" />
<path d="M319.5 176.2 L322.8 175.8 L326.2 175.4 L329.5 175.0 L332.9 174.6 L336.2 174.2 L339.6 173.8 L342.9 173.4 L346.3 173.1 L349.6 172.7 L352.9 172.3 L356.3 171.9 L359.6 171.5 L363.0 171.1 L366.3 170.7 L369.7 170.3 L373.0 169.9 L376.4 169.5 L379.7 169.1 L383.1 168.7 L386.4 168.4 L389.7 168.0 L393.1 167.6 L396.4 167.2 L399.8 166.8 L403.1 166.4 L406.5 166.0 L409.8 165.6 L413.2 165.2 L416.5 164.8 L419.9 164.4 L423.2 164.0 L426.5 163.7 L429.9 163.3 L433.2 162.9 L436.6 162.5 L439.9 162.1 L443.3 161.7 L446.6 161.3 L450.0 160.9 L453.3 160.5 L453.3 168.2 L450.0 168.6 L446.6 169.0 L443.3 169.4 L439.9 169.8 L436.6 170.2 L433.2 170.6 L429.9 171.1 L426.5 171.5 L423.2 171.9 L419.9 172.3 L416.5 172.7 L413.2 173.1 L409.8 173.5 L406.5 173.9 L403.1 174.3 L399.8 174.7 L396.4 175.2 L393.1 175.6 L389.7 176.0 L386.4 176.4 L383.1 176.8 L379.7 177.2 L376.4 177.6 L373.0 178.0 L369.7 178.4 L366.3 178.8 L363.0 179.3 L359.6 179.7 L356.3 180.1 L352.9 180.5 L349.6 180.9 L346.3 181.3 L342.9 181.7 L339.6 182.1 L336.2 182.5 L332.9 182.9 L329.5 183.4 L326.2 183.8 L322.8 184.2 L319.5 184.6Z" fill="#da846a" />
</g>
<path d="M253 157.500 C280 153.500 310 150.500 335 148.500 S364 145.800 372 146.500 C392 148.500 425 156 453.300 162 L319.500 177.800Z" fill="#fce8c2"/>
<clipPath id="act"><path d="M253 157.500 C280 153.500 310 150.500 335 148.500 S364 145.800 372 146.500 C392 148.500 425 156 453.300 162 L319.500 177.800Z"/></clipPath>
<g clip-path="url(#act)">
<ellipse cx="318" cy="156" rx="34" ry="6.500" fill="#fef2d6" opacity="0.9" transform="rotate(-4 318 156)"/>
<ellipse cx="306" cy="169" rx="30" ry="4.500" fill="#fdeecd" opacity="0.8" transform="rotate(8 306 169)"/>
<ellipse cx="388" cy="156.500" rx="26" ry="4.500" fill="#fdeecd" opacity="0.8" transform="rotate(3 388 156.500)"/>
<path d="M375 146.800 Q358 150 354 158.700 Q385 151 411 156.800 L446 161 L454 162 C425 156 392 148.500 375 146.800Z" fill="#f8dcae" opacity="0.6"/>
<g fill="none" stroke="#dfbf98" stroke-width="0.8" stroke-linecap="round">
<path d="M262 159 Q290 167 318 162 Q340 155 354 158.700"/>
<path d="M354 158.700 Q348 150 326 149.500"/>
<path d="M354 158.700 Q358 150 375 146.800"/>
<path d="M354 158.700 Q385 151 411 156.800 L446 161"/>
<path d="M354 158.700 Q352 164 340 170 L322 175.500"/>
<path d="M352 164.500 Q372 165.500 393 162 Q405 159.500 420 163"/>
</g></g>
<g id="blobA">
<ellipse cx="395" cy="258" rx="29" ry="19" fill="url(#gblob)" transform="rotate(-6 395 258)"/>
<circle cx="370" cy="247" r="8" fill="url(#gblob)"/>
<circle cx="362" cy="270.200" r="11.800" fill="url(#gblob)"/>
<ellipse cx="411" cy="249" rx="3" ry="2.2" fill="#d6e9f1" opacity="0.9"/><circle cx="416" cy="255" r="1.2" fill="#d6e9f1"/>
<circle cx="374" cy="243.500" r="1.6" fill="#d6e9f1" opacity="0.9"/><circle cx="368" cy="265" r="1.8" fill="#d6e9f1" opacity="0.9"/>
</g>
<path d="M391.300 150 L394.900 150 L394.900 239 L392.300 256.500 L391.500 254Z" fill="#dcdcda"/>
<path d="M391.300 150 L393.500 150 L393.500 247 L392.300 256.500 L391.500 254Z" fill="#f6f6f5"/>
</g>
<g id="syringe">
<path d="M366.700 20.200H416.700V91L392 96.500 366.700 91Z" fill="#f1f1f1"/>
<rect x="366.700" y="20.200" width="9.500" height="71" fill="#d1d1d1"/>
<path d="M376.200 91 L376.200 75 L392 78 L392 96.500 L366.700 91Z" fill="#dcdcdc"/>
<rect x="376.200" y="20.200" width="13" height="35" fill="#4db7ac"/>
<rect x="389.200" y="20.200" width="4.500" height="35" fill="#93d2cb"/>
<rect x="393.700" y="20.200" width="13.300" height="35" fill="#cfe9ea"/>
<rect x="407" y="20.200" width="4" height="71" fill="#fafafa"/>
<rect x="411" y="20.200" width="5.700" height="71" fill="#ededed"/>
<path d="M371 54.600H409.700V71.500L392 75.600 374 71.500V59H371Z" fill="#6a6a6a"/>
<path d="M374 59H409.700V68.500L392 68.500 374 68.500Z" fill="#5b5b5b"/>
<path d="M392 54.600H409.700V59H392Z" fill="#7a7a7a"/>
<rect x="366.700" y="25.8" width="16.8" height="2.200" fill="#454545"/>
<rect x="366.700" y="34.6" width="16.8" height="2.200" fill="#454545"/>
<rect x="366.700" y="43.3" width="16.8" height="2.200" fill="#454545"/>
<rect x="366.700" y="52.1" width="22.8" height="2.200" fill="#454545"/>
<rect x="366.700" y="60.7" width="16.8" height="2.200" fill="#454545"/>
<rect x="366.700" y="69.4" width="16.8" height="2.200" fill="#454545"/>
<rect x="366.700" y="78.1" width="16.8" height="2.200" fill="#454545"/>
<rect x="366.700" y="86.9" width="16.8" height="2.200" fill="#454545"/>
<rect x="386.400" y="92" width="12.300" height="11.500" fill="#e4e4e4"/><rect x="392.500" y="92" width="6.200" height="11.500" fill="#f3f3f3"/>
<path d="M386.400 92 L392.500 96.500 L398.700 92 Z" fill="#f1f1f1" opacity="0"/>
<path d="M382 103H402.300V110L400.300 110.500 398 146H396.200V151H390V146H388.600L384 110.500 382 110Z" fill="#2a9d8f"/>
<path d="M392.500 103H402.300V110L400.300 110.500 398 146H392.500Z" fill="#4fb0a4"/>
</g>
<g id="card1">
<path d="M52.100 195a16 16 0 0 1 16-16H289.900a16 16 0 0 1 16 16V325.600a16 16 0 0 1-16 16H68.100a16 16 0 0 1-16-16Z" fill="#f3eee8"/>
<path d="M53.600 229.500H304.400V325.600a14.500 14.500 0 0 1-14.500 14.500H68.100a14.500 14.500 0 0 1-14.500-14.500Z" fill="#fff"/>
<g clip-path="url(#clipCard1)">
<g transform="rotate(0 222 329)"><ellipse cx="222" cy="329" rx="30" ry="30" fill="#f8e2d1" stroke="#d6b39c" stroke-width="0.9"/></g><g transform="rotate(0 222 329)"><ellipse cx="220.4" cy="329.1" rx="25.4" ry="25.4" fill="url(#gfat)" stroke="#e9b98d" stroke-width="0.7"/></g><ellipse cx="245" cy="327" rx="4.100" ry="5.600" transform="rotate(20 245 327)" fill="#a79ed0" stroke="#887dbc" stroke-width="0.8"/>
<g transform="rotate(0 205 255)"><ellipse cx="205" cy="255" rx="31" ry="30" fill="#f8e2d1" stroke="#d6b39c" stroke-width="0.9"/></g><g transform="rotate(0 205 255)"><ellipse cx="206.6" cy="255.3" rx="26.4" ry="25.4" fill="url(#gfat)" stroke="#e9b98d" stroke-width="0.7"/></g><ellipse cx="181" cy="251" rx="4.100" ry="5.600" transform="rotate(-10 181 251)" fill="#a79ed0" stroke="#887dbc" stroke-width="0.8"/>
<g transform="rotate(0 112 236)"><ellipse cx="112" cy="236" rx="26" ry="26" fill="#f8e2d1" stroke="#d6b39c" stroke-width="0.9"/></g><g transform="rotate(0 112 236)"><ellipse cx="112.0" cy="236.0" rx="21.4" ry="21.4" fill="url(#gfat)" stroke="#e9b98d" stroke-width="0.7"/></g>
<g transform="rotate(-10 262 238)"><ellipse cx="262" cy="238" rx="32" ry="26" fill="#f8e2d1" stroke="#d6b39c" stroke-width="0.9"/></g><g transform="rotate(-10 262 238)"><ellipse cx="260.5" cy="238.4" rx="27.4" ry="21.4" fill="url(#gfat)" stroke="#e9b98d" stroke-width="0.7"/></g><ellipse cx="288" cy="231" rx="4.100" ry="5.600" transform="rotate(30 288 231)" fill="#a79ed0" stroke="#887dbc" stroke-width="0.8"/>
<g transform="rotate(0 171 226)"><ellipse cx="171" cy="226" rx="28" ry="27" fill="#f8e2d1" stroke="#d6b39c" stroke-width="0.9"/></g><g transform="rotate(0 171 226)"><ellipse cx="171.0" cy="226.0" rx="23.4" ry="22.4" fill="url(#gfat)" stroke="#e9b98d" stroke-width="0.7"/></g>
<g transform="rotate(-15 94 269)"><ellipse cx="94" cy="269" rx="27" ry="29" fill="#f8e2d1" stroke="#d6b39c" stroke-width="0.9"/></g><g transform="rotate(-15 94 269)"><ellipse cx="95.6" cy="269.1" rx="22.4" ry="24.4" fill="url(#gfat)" stroke="#e9b98d" stroke-width="0.7"/></g><ellipse cx="75" cy="268" rx="4.100" ry="5.600" transform="rotate(-10 75 268)" fill="#a79ed0" stroke="#887dbc" stroke-width="0.8"/>
<g transform="rotate(0 149 262)"><ellipse cx="149" cy="262" rx="30" ry="30" fill="#f8e2d1" stroke="#d6b39c" stroke-width="0.9"/></g><g transform="rotate(0 149 262)"><ellipse cx="147.5" cy="262.5" rx="25.4" ry="25.4" fill="url(#gfat)" stroke="#e9b98d" stroke-width="0.7"/></g><ellipse cx="173.5" cy="254" rx="4.100" ry="5.600" transform="rotate(25 173.5 254)" fill="#a79ed0" stroke="#887dbc" stroke-width="0.8"/>
<g transform="rotate(20 190 306)"><ellipse cx="190" cy="306" rx="28" ry="33" fill="#f8e2d1" stroke="#d6b39c" stroke-width="0.9"/></g><g transform="rotate(20 190 306)"><ellipse cx="189.2" cy="307.4" rx="23.4" ry="28.4" fill="url(#gfat)" stroke="#e9b98d" stroke-width="0.7"/></g><ellipse cx="204" cy="283" rx="4.100" ry="5.600" transform="rotate(-40 204 283)" fill="#a79ed0" stroke="#887dbc" stroke-width="0.8"/>
<g transform="rotate(-25 244 291)"><ellipse cx="244" cy="291" rx="30" ry="34" fill="#f8e2d1" stroke="#d6b39c" stroke-width="0.9"/></g><g transform="rotate(-25 244 291)"><ellipse cx="243.0" cy="292.2" rx="25.4" ry="29.4" fill="url(#gfat)" stroke="#e9b98d" stroke-width="0.7"/></g><ellipse cx="261" cy="270.5" rx="4.100" ry="5.600" transform="rotate(-30 261 270.5)" fill="#a79ed0" stroke="#887dbc" stroke-width="0.8"/>
<g transform="rotate(0 132.5 312.5)"><ellipse cx="132.5" cy="312.5" rx="31" ry="30" fill="#f8e2d1" stroke="#d6b39c" stroke-width="0.9"/></g><g transform="rotate(0 132.5 312.5)"><ellipse cx="130.9" cy="312.6" rx="26.4" ry="25.4" fill="url(#gfat)" stroke="#e9b98d" stroke-width="0.7"/></g><ellipse cx="158.5" cy="311" rx="4.100" ry="5.600" transform="rotate(10 158.5 311)" fill="#a79ed0" stroke="#887dbc" stroke-width="0.8"/>
</g>
<path d="M52.100 229.800V195a16 16 0 0 1 16-16H289.900a16 16 0 0 1 16 16V229.800Z" fill="#f3efe9"/>
</g>
<g id="card2">
<g clip-path="url(#clipCard2)">
<clipPath id="clipCell"><path d="M544.500 225 L544.500 280 Q546 296 560 308 L575 318 L575 345 L720 345 L720 225Z"/></clipPath>
<g clip-path="url(#clipCell)">
<ellipse cx="613.100" cy="255.700" rx="73.500" ry="69.200" transform="rotate(-15 613.100 255.700)" fill="#f3dfd1" stroke="#d9b8a2" stroke-width="1"/>
<ellipse cx="612.600" cy="254.700" rx="71" ry="66.500" transform="rotate(-15 612.600 254.700)" fill="#fbe7da"/>
<path d="M545 225 L545 280 Q546.500 296 560.500 308" fill="none" stroke="#e3c8b5" stroke-width="1.6"/>
</g>
<path d="M551 229 C549 262 566 303 598 314.500 C612 316 632 308 649 295 C656 285 658.500 272 657.500 262 C656 252 652 240 651 226 Z" fill="#f7c98f" stroke="#ecba86" stroke-width="0.8"/>
<path d="M575 229 C575 262 590 290 612 300 C634 296 646 270 640 240 L636 226 Z" fill="#f9d3a6" opacity="0.7" filter="url(#blur3)"/>
<ellipse cx="661" cy="241.200" rx="9.800" ry="12.300" transform="rotate(20 661 241.200)" fill="#ada3cf" stroke="#8f84bd" stroke-width="0.8"/>
<path d="M660 256 C664 250 672 244 677 243 C681 245 680 251 677 256 C675 262 669 266 663 266 C658 264 658 260 660 256Z" fill="#cf4a4f" stroke="#a9343b" stroke-width="0.8"/>
<path d="M663 261 l3-2 l0-3 l3-1 l1-3 l3-1 l1-3" fill="none" stroke="#9e2b33" stroke-width="1.3" stroke-linejoin="round"/>
<circle cx="570.2" cy="267.6" r="7.600" fill="#c4a48c"/>
<circle cx="576" cy="257.1" r="7.600" fill="#c4a48c"/>
<circle cx="573.7" cy="278.7" r="7.600" fill="#c4a48c"/>
<circle cx="563.8" cy="280.5" r="7.600" fill="#c4a48c"/>
<circle cx="572" cy="303.8" r="7.600" fill="#c4a48c"/>
<circle cx="560.3" cy="292.7" r="7.600" fill="#c4a48c"/>
<circle cx="583.6" cy="275.2" r="7.600" fill="#c4a48c"/>
<circle cx="555" cy="258.9" r="7.600" fill="#c4a48c"/>
<circle cx="581.3" cy="266.5" r="7.600" fill="#c4a48c"/>
<circle cx="561.5" cy="245.5" r="7.600" fill="#c4a48c"/>
<circle cx="573.7" cy="244.9" r="7.600" fill="#c4a48c"/>
<circle cx="584.8" cy="250.1" r="7.600" fill="#c4a48c"/>
<circle cx="564.4" cy="256" r="7.600" fill="#c4a48c"/>
<circle cx="591.8" cy="260" r="7.600" fill="#c4a48c"/>
<circle cx="558" cy="269.4" r="7.600" fill="#c4a48c"/>
<circle cx="595.3" cy="271.7" r="7.600" fill="#c4a48c"/>
<circle cx="547.5" cy="273.5" r="7.600" fill="#c4a48c"/>
<circle cx="555" cy="285.1" r="7.600" fill="#c4a48c"/>
<circle cx="582.5" cy="285.1" r="7.600" fill="#c4a48c"/>
<circle cx="594.7" cy="284" r="7.600" fill="#c4a48c"/>
<circle cx="572" cy="291.5" r="7.600" fill="#c4a48c"/>
<circle cx="585.4" cy="294.4" r="7.600" fill="#c4a48c"/>
<circle cx="596.4" cy="298" r="7.600" fill="#c4a48c"/>
<circle cx="562" cy="301.4" r="7.600" fill="#c4a48c"/>
<circle cx="581.9" cy="305" r="7.600" fill="#c4a48c"/>
<circle cx="570.2" cy="267.6" r="6.800" fill="#e6bb8f"/>
<circle cx="576" cy="257.1" r="6.800" fill="#e6bb8f"/>
<circle cx="573.7" cy="278.7" r="6.800" fill="#e6bb8f"/>
<circle cx="563.8" cy="280.5" r="6.800" fill="#e6bb8f"/>
<circle cx="572" cy="303.8" r="6.800" fill="#e6bb8f"/>
<circle cx="560.3" cy="292.7" r="6.800" fill="#e6bb8f"/>
<circle cx="583.6" cy="275.2" r="6.800" fill="#e6bb8f"/>
<circle cx="555" cy="258.9" r="6.800" fill="#e6bb8f"/>
<circle cx="581.3" cy="266.5" r="6.800" fill="#e6bb8f"/>
<circle cx="561.5" cy="245.5" r="6.800" fill="#e6bb8f"/>
<circle cx="573.7" cy="244.9" r="6.800" fill="#e6bb8f"/>
<circle cx="584.8" cy="250.1" r="6.800" fill="#e6bb8f"/>
<circle cx="564.4" cy="256" r="6.800" fill="#e6bb8f"/>
<circle cx="591.8" cy="260" r="6.800" fill="#e6bb8f"/>
<circle cx="558" cy="269.4" r="6.800" fill="#e6bb8f"/>
<circle cx="595.3" cy="271.7" r="6.800" fill="#e6bb8f"/>
<circle cx="547.5" cy="273.5" r="6.800" fill="#e6bb8f"/>
<circle cx="555" cy="285.1" r="6.800" fill="#e6bb8f"/>
<circle cx="582.5" cy="285.1" r="6.800" fill="#e6bb8f"/>
<circle cx="594.7" cy="284" r="6.800" fill="#e6bb8f"/>
<circle cx="572" cy="291.5" r="6.800" fill="#e6bb8f"/>
<circle cx="585.4" cy="294.4" r="6.800" fill="#e6bb8f"/>
<circle cx="596.4" cy="298" r="6.800" fill="#e6bb8f"/>
<circle cx="562" cy="301.4" r="6.800" fill="#e6bb8f"/>
<circle cx="581.9" cy="305" r="6.800" fill="#e6bb8f"/>
<circle cx="570.2" cy="267.6" r="6.300" fill="#caa98f"/><circle cx="570.2" cy="267.6" r="5.500" fill="url(#gsph)" stroke="#f4dfcc" stroke-width="0.7"/>
<circle cx="576" cy="257.1" r="6.300" fill="#caa98f"/><circle cx="576" cy="257.1" r="5.500" fill="url(#gsph)" stroke="#f4dfcc" stroke-width="0.7"/>
<circle cx="573.7" cy="278.7" r="6.300" fill="#caa98f"/><circle cx="573.7" cy="278.7" r="5.500" fill="url(#gsph)" stroke="#f4dfcc" stroke-width="0.7"/>
<circle cx="563.8" cy="280.5" r="6.300" fill="#caa98f"/><circle cx="563.8" cy="280.5" r="5.500" fill="url(#gsph)" stroke="#f4dfcc" stroke-width="0.7"/>
<circle cx="572" cy="303.8" r="6.300" fill="#caa98f"/><circle cx="572" cy="303.8" r="5.500" fill="url(#gsph)" stroke="#f4dfcc" stroke-width="0.7"/>
<circle cx="560.3" cy="292.7" r="6.300" fill="#caa98f"/><circle cx="560.3" cy="292.7" r="5.500" fill="url(#gsph)" stroke="#f4dfcc" stroke-width="0.7"/>
<circle cx="583.6" cy="275.2" r="6.300" fill="#caa98f"/><circle cx="583.6" cy="275.2" r="5.500" fill="url(#gsph)" stroke="#f4dfcc" stroke-width="0.7"/>
<circle cx="555" cy="258.9" r="6.300" fill="#caa98f"/><circle cx="555" cy="258.9" r="5.500" fill="url(#gsph)" stroke="#f4dfcc" stroke-width="0.7"/>
<circle cx="581.3" cy="266.5" r="6.300" fill="#caa98f"/><circle cx="581.3" cy="266.5" r="5.500" fill="url(#gsph)" stroke="#f4dfcc" stroke-width="0.7"/>
<circle cx="561.5" cy="245.5" r="6.300" fill="#caa98f"/><circle cx="561.5" cy="245.5" r="5.500" fill="url(#gsph)" stroke="#f4dfcc" stroke-width="0.7"/>
<circle cx="573.7" cy="244.9" r="6.300" fill="#caa98f"/><circle cx="573.7" cy="244.9" r="5.500" fill="url(#gsph)" stroke="#f4dfcc" stroke-width="0.7"/>
<circle cx="584.8" cy="250.1" r="6.300" fill="#caa98f"/><circle cx="584.8" cy="250.1" r="5.500" fill="url(#gsph)" stroke="#f4dfcc" stroke-width="0.7"/>
<circle cx="564.4" cy="256" r="6.300" fill="#caa98f"/><circle cx="564.4" cy="256" r="5.500" fill="url(#gsph)" stroke="#f4dfcc" stroke-width="0.7"/>
<circle cx="591.8" cy="260" r="6.300" fill="#caa98f"/><circle cx="591.8" cy="260" r="5.500" fill="url(#gsph)" stroke="#f4dfcc" stroke-width="0.7"/>
<circle cx="558" cy="269.4" r="6.300" fill="#caa98f"/><circle cx="558" cy="269.4" r="5.500" fill="url(#gsph)" stroke="#f4dfcc" stroke-width="0.7"/>
<circle cx="595.3" cy="271.7" r="6.300" fill="#caa98f"/><circle cx="595.3" cy="271.7" r="5.500" fill="url(#gsph)" stroke="#f4dfcc" stroke-width="0.7"/>
<circle cx="547.5" cy="273.5" r="6.300" fill="#caa98f"/><circle cx="547.5" cy="273.5" r="5.500" fill="url(#gsph)" stroke="#f4dfcc" stroke-width="0.7"/>
<circle cx="555" cy="285.1" r="6.300" fill="#caa98f"/><circle cx="555" cy="285.1" r="5.500" fill="url(#gsph)" stroke="#f4dfcc" stroke-width="0.7"/>
<circle cx="582.5" cy="285.1" r="6.300" fill="#caa98f"/><circle cx="582.5" cy="285.1" r="5.500" fill="url(#gsph)" stroke="#f4dfcc" stroke-width="0.7"/>
<circle cx="594.7" cy="284" r="6.300" fill="#caa98f"/><circle cx="594.7" cy="284" r="5.500" fill="url(#gsph)" stroke="#f4dfcc" stroke-width="0.7"/>
<circle cx="572" cy="291.5" r="6.300" fill="#caa98f"/><circle cx="572" cy="291.5" r="5.500" fill="url(#gsph)" stroke="#f4dfcc" stroke-width="0.7"/>
<circle cx="585.4" cy="294.4" r="6.300" fill="#caa98f"/><circle cx="585.4" cy="294.4" r="5.500" fill="url(#gsph)" stroke="#f4dfcc" stroke-width="0.7"/>
<circle cx="596.4" cy="298" r="6.300" fill="#caa98f"/><circle cx="596.4" cy="298" r="5.500" fill="url(#gsph)" stroke="#f4dfcc" stroke-width="0.7"/>
<circle cx="562" cy="301.4" r="6.300" fill="#caa98f"/><circle cx="562" cy="301.4" r="5.500" fill="url(#gsph)" stroke="#f4dfcc" stroke-width="0.7"/>
<circle cx="581.9" cy="305" r="6.300" fill="#caa98f"/><circle cx="581.9" cy="305" r="5.500" fill="url(#gsph)" stroke="#f4dfcc" stroke-width="0.7"/>
<circle cx="546.3" cy="247.2" r="6.300" fill="#caa98f"/><circle cx="546.3" cy="247.2" r="5.500" fill="url(#gsph)" stroke="#f4dfcc" stroke-width="0.7"/>
<circle cx="524" cy="250.5" r="5.5" fill="url(#gsph)" stroke="#efc495" stroke-width="0.6"/>
<circle cx="512.8" cy="269.3" r="6.5" fill="url(#gsph)" stroke="#efc495" stroke-width="0.6"/>
<circle cx="540.5" cy="269.4" r="2.3" fill="url(#gsph)" stroke="#efc495" stroke-width="0.6"/>
<circle cx="541.7" cy="307.3" r="2.6" fill="url(#gsph)" stroke="#efc495" stroke-width="0.6"/>
<circle cx="562.7" cy="324.9" r="6.6" fill="url(#gsph)" stroke="#efc495" stroke-width="0.6"/>
</g>
<path d="M469 229.700V195.500a16 16 0 0 1 16-16H705.300a16 16 0 0 1 16 16V229.700Z" fill="#f3efe9"/>
</g>
<g id="timeline">
<path d="M64 444V364.500H232V444" fill="none" stroke="#8d8a89" stroke-width="1"/>
<path d="M304 444V364.500H721.500V489" fill="none" stroke="#8d8a89" stroke-width="1"/>
<path d="M50.900 443.500H651V424L721.800 489.500 651 555.200V535.800H50.900Z" fill="url(#gbar)"/>
<rect x="195.9" y="443.500" width="1.100" height="92.300" fill="#d5e9e8" opacity="0.75"/>
<rect x="267.9" y="443.500" width="1.100" height="92.300" fill="#d5e9e8" opacity="0.75"/>
<rect x="339.9" y="443.500" width="1.100" height="92.300" fill="#d5e9e8" opacity="0.75"/>
<rect x="411.9" y="443.500" width="1.100" height="92.300" fill="#d5e9e8" opacity="0.75"/>
<rect x="483.9" y="443.500" width="1.100" height="92.300" fill="#d5e9e8" opacity="0.75"/>
<rect x="555.6" y="443.500" width="1.100" height="92.300" fill="#d5e9e8" opacity="0.75"/>
<rect x="627.1" y="443.500" width="1.100" height="92.300" fill="#d5e9e8" opacity="0.75"/>
</g>
<g id="arrows" fill="#eb6f3d">
<path d="M186.2 642H206.6V669.800H213.1L196.4 688 179.7 669.800H186.2Z"/>
<path d="M186.2 887.800H206.6V860.100H213.1L196.4 842 179.7 860.100H186.2Z"/>
<path d="M231.3 642H251.7V669.800H258.2L241.5 688 224.8 669.800H231.3Z"/>
<path d="M231.3 887.800H251.7V860.100H258.2L241.5 842 224.8 860.100H231.3Z"/>
<path d="M276.4 642H296.8V669.800H303.3L286.6 688 269.9 669.800H276.4Z"/>
<path d="M276.4 887.800H296.8V860.100H303.3L286.6 842 269.9 860.100H276.4Z"/>
</g>
<g id="skinB">
<clipPath id="bcr"><path d="M206.8 722.5L341 708.5L341 807.8L206.8 837.2Z"/></clipPath>
<clipPath id="bcl"><path d="M142 704.5L207.60000000000002 722.5L207.60000000000002 837.2L142 802.8Z"/></clipPath>
<g clip-path="url(#bcl)">
<path d="M206.8 722.5 L205.2 722.0 L203.6 721.6 L201.9 721.1 L200.3 720.7 L198.7 720.2 L197.1 719.8 L195.5 719.4 L193.8 718.9 L192.2 718.5 L190.6 718.0 L189.0 717.5 L187.4 717.1 L185.7 716.6 L184.1 716.2 L182.5 715.8 L180.9 715.3 L179.3 714.9 L177.6 714.4 L176.0 714.0 L174.4 713.5 L172.8 713.0 L171.2 712.6 L169.5 712.1 L167.9 711.7 L166.3 711.2 L164.7 710.8 L163.1 710.4 L161.4 709.9 L159.8 709.5 L158.2 709.0 L156.6 708.5 L155.0 708.1 L153.3 707.6 L151.7 707.2 L150.1 706.8 L148.5 706.3 L146.9 705.9 L145.2 705.4 L143.6 705.0 L142.0 704.5 L142.0 802.8 L143.6 803.7 L145.2 804.5 L146.9 805.4 L148.5 806.2 L150.1 807.1 L151.7 808.0 L153.3 808.8 L155.0 809.7 L156.6 810.5 L158.2 811.4 L159.8 812.3 L161.4 813.1 L163.1 814.0 L164.7 814.8 L166.3 815.7 L167.9 816.6 L169.5 817.4 L171.2 818.3 L172.8 819.1 L174.4 820.0 L176.0 820.9 L177.6 821.7 L179.3 822.6 L180.9 823.4 L182.5 824.3 L184.1 825.2 L185.7 826.0 L187.4 826.9 L189.0 827.7 L190.6 828.6 L192.2 829.5 L193.8 830.3 L195.5 831.2 L197.1 832.0 L198.7 832.9 L200.3 833.8 L201.9 834.6 L203.6 835.5 L205.2 836.3 L206.8 837.2Z" fill="#f6e5bd" />
<g filter="url(#blur1)"><ellipse cx="143.4" cy="759.2" rx="6.0" ry="4.0" fill="#f9ecca" opacity="0.6"/><ellipse cx="162.1" cy="784.6" rx="6.1" ry="3.8" fill="#f1deb0" opacity="0.6"/><ellipse cx="149.1" cy="776.6" rx="3.9" ry="2.7" fill="#f9ecca" opacity="0.6"/><ellipse cx="169.0" cy="790.4" rx="3.7" ry="4.4" fill="#f7e8c4" opacity="0.6"/><ellipse cx="198.5" cy="786.9" rx="4.1" ry="3.3" fill="#f7e8c4" opacity="0.6"/><ellipse cx="169.2" cy="779.1" rx="4.3" ry="3.8" fill="#f7e8c4" opacity="0.6"/><ellipse cx="190.7" cy="777.0" rx="5.5" ry="4.4" fill="#f7e8c4" opacity="0.6"/><ellipse cx="173.8" cy="787.2" rx="6.0" ry="4.3" fill="#f7e8c4" opacity="0.6"/><ellipse cx="149.3" cy="777.5" rx="5.3" ry="3.9" fill="#f1deb0" opacity="0.6"/><ellipse cx="204.1" cy="802.6" rx="4.0" ry="3.5" fill="#f9ecca" opacity="0.6"/><ellipse cx="175.6" cy="769.6" rx="6.4" ry="3.8" fill="#f9ecca" opacity="0.6"/><ellipse cx="187.0" cy="787.4" rx="3.9" ry="4.3" fill="#f9ecca" opacity="0.6"/><ellipse cx="160.9" cy="761.1" rx="5.4" ry="3.7" fill="#f1deb0" opacity="0.6"/><ellipse cx="182.1" cy="787.5" rx="4.4" ry="4.3" fill="#f9ecca" opacity="0.6"/><ellipse cx="178.0" cy="758.8" rx="5.8" ry="4.2" fill="#f7e8c4" opacity="0.6"/><ellipse cx="191.3" cy="771.9" rx="4.3" ry="4.4" fill="#f9ecca" opacity="0.6"/><ellipse cx="169.3" cy="778.2" rx="4.8" ry="3.5" fill="#f1deb0" opacity="0.6"/><ellipse cx="201.0" cy="772.2" rx="3.6" ry="3.0" fill="#f7e8c4" opacity="0.6"/><ellipse cx="151.8" cy="765.9" rx="6.9" ry="3.1" fill="#f9ecca" opacity="0.6"/><ellipse cx="195.0" cy="778.7" rx="6.4" ry="2.6" fill="#f7e8c4" opacity="0.6"/><ellipse cx="165.4" cy="776.9" rx="5.8" ry="3.5" fill="#f9ecca" opacity="0.6"/><ellipse cx="185.3" cy="785.1" rx="3.7" ry="2.6" fill="#f1deb0" opacity="0.6"/><ellipse cx="166.2" cy="758.5" rx="5.0" ry="3.1" fill="#f1deb0" opacity="0.6"/><ellipse cx="168.1" cy="787.9" rx="5.4" ry="3.3" fill="#f1deb0" opacity="0.6"/><ellipse cx="173.0" cy="770.4" rx="5.6" ry="3.2" fill="#f1deb0" opacity="0.6"/><ellipse cx="197.6" cy="783.8" rx="5.1" ry="4.5" fill="#f7e8c4" opacity="0.6"/><ellipse cx="171.4" cy="787.8" rx="6.8" ry="2.5" fill="#f1deb0" opacity="0.6"/><ellipse cx="147.2" cy="774.2" rx="4.0" ry="3.7" fill="#f7e8c4" opacity="0.6"/><ellipse cx="162.9" cy="783.1" rx="4.4" ry="2.5" fill="#f7e8c4" opacity="0.6"/><ellipse cx="156.1" cy="768.4" rx="3.9" ry="2.6" fill="#f9ecca" opacity="0.6"/></g>
<path d="M206.8 811.0 L205.2 810.2 L203.6 809.4 L201.9 808.5 L200.3 807.7 L198.7 806.8 L197.1 806.0 L195.5 805.2 L193.8 804.3 L192.2 803.5 L190.6 802.6 L189.0 801.8 L187.4 801.0 L185.7 800.1 L184.1 799.3 L182.5 798.4 L180.9 797.6 L179.3 796.8 L177.6 795.9 L176.0 795.1 L174.4 794.2 L172.8 793.4 L171.2 792.6 L169.5 791.7 L167.9 790.9 L166.3 790.0 L164.7 789.2 L163.1 788.4 L161.4 787.5 L159.8 786.7 L158.2 785.8 L156.6 785.0 L155.0 784.2 L153.3 783.3 L151.7 782.5 L150.1 781.6 L148.5 780.8 L146.9 780.0 L145.2 779.1 L143.6 778.3 L142.0 777.4 L142.0 807.7 L143.6 808.6 L145.2 809.5 L146.9 810.4 L148.5 811.2 L150.1 812.1 L151.7 813.0 L153.3 813.9 L155.0 814.8 L156.6 815.6 L158.2 816.5 L159.8 817.4 L161.4 818.3 L163.1 819.2 L164.7 820.0 L166.3 820.9 L167.9 821.8 L169.5 822.7 L171.2 823.6 L172.8 824.4 L174.4 825.3 L176.0 826.2 L177.6 827.1 L179.3 828.0 L180.9 828.8 L182.5 829.7 L184.1 830.6 L185.7 831.5 L187.4 832.4 L189.0 833.2 L190.6 834.1 L192.2 835.0 L193.8 835.9 L195.5 836.8 L197.1 837.7 L198.7 838.5 L200.3 839.4 L201.9 840.3 L203.6 841.2 L205.2 842.1 L206.8 842.9Z" fill="#e48f72" />
<g filter="url(#blur1)"><ellipse cx="172.5" cy="816.1" rx="6.2" ry="4.0" fill="#de7d5a" opacity="0.5"/><ellipse cx="190.4" cy="813.1" rx="5.0" ry="4.0" fill="#e48763" opacity="0.5"/><ellipse cx="157.7" cy="802.5" rx="5.2" ry="2.9" fill="#de7d5a" opacity="0.5"/><ellipse cx="146.6" cy="796.6" rx="5.1" ry="3.7" fill="#ee9f7b" opacity="0.5"/><ellipse cx="145.7" cy="786.5" rx="4.5" ry="3.7" fill="#de7d5a" opacity="0.5"/><ellipse cx="173.5" cy="800.8" rx="5.1" ry="3.3" fill="#de7d5a" opacity="0.5"/><ellipse cx="203.4" cy="820.7" rx="3.6" ry="4.1" fill="#de7d5a" opacity="0.5"/><ellipse cx="156.8" cy="792.3" rx="4.3" ry="3.1" fill="#de7d5a" opacity="0.5"/><ellipse cx="182.5" cy="807.9" rx="3.9" ry="3.8" fill="#e48763" opacity="0.5"/><ellipse cx="157.3" cy="807.4" rx="6.7" ry="2.8" fill="#e48763" opacity="0.5"/><ellipse cx="149.8" cy="801.1" rx="4.5" ry="3.6" fill="#ee9f7b" opacity="0.5"/><ellipse cx="187.3" cy="826.8" rx="4.0" ry="4.0" fill="#e48763" opacity="0.5"/><ellipse cx="163.9" cy="804.7" rx="6.4" ry="3.9" fill="#de7d5a" opacity="0.5"/><ellipse cx="189.2" cy="821.8" rx="5.2" ry="2.8" fill="#ee9f7b" opacity="0.5"/></g>
<path d="M206.8 720.2 L205.2 719.8 L203.6 719.3 L201.9 718.9 L200.3 718.4 L198.7 718.0 L197.1 717.6 L195.5 717.1 L193.8 716.7 L192.2 716.2 L190.6 715.8 L189.0 715.3 L187.4 714.9 L185.7 714.5 L184.1 714.0 L182.5 713.6 L180.9 713.1 L179.3 712.7 L177.6 712.3 L176.0 711.8 L174.4 711.4 L172.8 710.9 L171.2 710.5 L169.5 710.0 L167.9 709.6 L166.3 709.2 L164.7 708.7 L163.1 708.3 L161.4 707.8 L159.8 707.4 L158.2 707.0 L156.6 706.5 L155.0 706.1 L153.3 705.6 L151.7 705.2 L150.1 704.7 L148.5 704.3 L146.9 703.9 L145.2 703.4 L143.6 703.0 L142.0 702.5 L142.0 745.7 L143.6 745.6 L145.2 746.2 L146.9 748.3 L148.5 749.8 L150.1 749.5 L151.7 749.4 L153.3 750.6 L155.0 751.3 L156.6 750.7 L158.2 751.0 L159.8 753.0 L161.4 754.3 L163.1 754.3 L164.7 754.9 L166.3 756.5 L167.9 757.1 L169.5 756.3 L171.2 756.4 L172.8 758.0 L174.4 758.8 L176.0 758.7 L177.6 759.8 L179.3 761.9 L180.9 762.7 L182.5 762.1 L184.1 762.3 L185.7 763.5 L187.4 763.6 L189.0 763.2 L190.6 764.4 L192.2 766.8 L193.8 767.8 L195.5 767.7 L197.1 768.4 L198.7 769.4 L200.3 768.9 L201.9 768.0 L203.6 769.1 L205.2 771.3 L206.8 772.4Z" fill="#fbdcc0" filter="url(#blur3)"/>
<path d="M206.8 720.2 L205.2 719.8 L203.6 719.3 L201.9 718.9 L200.3 718.4 L198.7 718.0 L197.1 717.6 L195.5 717.1 L193.8 716.7 L192.2 716.2 L190.6 715.8 L189.0 715.3 L187.4 714.9 L185.7 714.5 L184.1 714.0 L182.5 713.6 L180.9 713.1 L179.3 712.7 L177.6 712.3 L176.0 711.8 L174.4 711.4 L172.8 710.9 L171.2 710.5 L169.5 710.0 L167.9 709.6 L166.3 709.2 L164.7 708.7 L163.1 708.3 L161.4 707.8 L159.8 707.4 L158.2 707.0 L156.6 706.5 L155.0 706.1 L153.3 705.6 L151.7 705.2 L150.1 704.7 L148.5 704.3 L146.9 703.9 L145.2 703.4 L143.6 703.0 L142.0 702.5 L142.0 739.8 L143.6 739.7 L145.2 740.2 L146.9 742.3 L148.5 743.8 L150.1 743.5 L151.7 743.4 L153.3 744.6 L155.0 745.2 L156.6 744.6 L158.2 744.9 L159.8 746.8 L161.4 748.1 L163.1 748.1 L164.7 748.6 L166.3 750.2 L167.9 750.8 L169.5 750.0 L171.2 750.1 L172.8 751.6 L174.4 752.4 L176.0 752.3 L177.6 753.4 L179.3 755.5 L180.9 756.2 L182.5 755.5 L184.1 755.8 L185.7 756.9 L187.4 757.0 L189.0 756.6 L190.6 757.8 L192.2 760.1 L193.8 761.1 L195.5 761.0 L197.1 761.7 L198.7 762.6 L200.3 762.1 L201.9 761.2 L203.6 762.3 L205.2 764.4 L206.8 765.5Z" fill="#fbd9bb" filter="url(#blur2)"/>
<path d="M206.8 720.2 L205.2 719.8 L203.6 719.3 L201.9 718.9 L200.3 718.4 L198.7 718.0 L197.1 717.6 L195.5 717.1 L193.8 716.7 L192.2 716.2 L190.6 715.8 L189.0 715.3 L187.4 714.9 L185.7 714.5 L184.1 714.0 L182.5 713.6 L180.9 713.1 L179.3 712.7 L177.6 712.3 L176.0 711.8 L174.4 711.4 L172.8 710.9 L171.2 710.5 L169.5 710.0 L167.9 709.6 L166.3 709.2 L164.7 708.7 L163.1 708.3 L161.4 707.8 L159.8 707.4 L158.2 707.0 L156.6 706.5 L155.0 706.1 L153.3 705.6 L151.7 705.2 L150.1 704.7 L148.5 704.3 L146.9 703.9 L145.2 703.4 L143.6 703.0 L142.0 702.5 L142.0 736.8 L143.6 733.3 L145.2 729.9 L146.9 730.1 L148.5 731.6 L150.1 732.7 L151.7 735.4 L153.3 740.0 L155.0 742.0 L156.6 739.6 L158.2 736.9 L159.8 736.5 L161.4 736.3 L163.1 735.8 L164.7 738.1 L166.3 743.2 L167.9 746.1 L169.5 745.0 L171.2 743.7 L172.8 743.5 L174.4 742.0 L176.0 740.0 L177.6 741.6 L179.3 746.2 L180.9 749.1 L182.5 749.3 L184.1 749.6 L185.7 750.2 L187.4 748.3 L189.0 745.4 L190.6 746.0 L192.2 749.6 L193.8 751.9 L195.5 752.7 L197.1 754.6 L198.7 756.2 L200.3 754.5 L201.9 751.5 L203.6 751.5 L205.2 753.9 L206.8 754.9Z" fill="#f1b8a2" filter="url(#blur2)" opacity="0.9"/>
<path d="M206.8 720.2 L205.2 719.8 L203.6 719.3 L201.9 718.9 L200.3 718.4 L198.7 718.0 L197.1 717.6 L195.5 717.1 L193.8 716.7 L192.2 716.2 L190.6 715.8 L189.0 715.3 L187.4 714.9 L185.7 714.5 L184.1 714.0 L182.5 713.6 L180.9 713.1 L179.3 712.7 L177.6 712.3 L176.0 711.8 L174.4 711.4 L172.8 710.9 L171.2 710.5 L169.5 710.0 L167.9 709.6 L166.3 709.2 L164.7 708.7 L163.1 708.3 L161.4 707.8 L159.8 707.4 L158.2 707.0 L156.6 706.5 L155.0 706.1 L153.3 705.6 L151.7 705.2 L150.1 704.7 L148.5 704.3 L146.9 703.9 L145.2 703.4 L143.6 703.0 L142.0 702.5 L142.0 732.4 L143.6 729.7 L145.2 727.1 L146.9 727.4 L148.5 728.7 L150.1 729.6 L151.7 731.9 L153.3 735.7 L155.0 737.4 L156.6 735.6 L158.2 733.5 L159.8 733.3 L161.4 733.3 L163.1 732.9 L164.7 734.9 L166.3 739.1 L167.9 741.5 L169.5 740.7 L171.2 739.8 L172.8 739.7 L174.4 738.7 L176.0 737.2 L177.6 738.5 L179.3 742.3 L180.9 744.8 L182.5 745.0 L184.1 745.4 L185.7 746.0 L187.4 744.5 L189.0 742.3 L190.6 742.9 L192.2 745.9 L193.8 747.8 L195.5 748.5 L197.1 750.2 L198.7 751.6 L200.3 750.3 L201.9 748.0 L203.6 748.2 L205.2 750.1 L206.8 751.1Z" fill="#efb29e" filter="url(#blur1)"/>
<path d="M206.8 722.5 L205.2 722.0 L203.6 721.6 L201.9 721.1 L200.3 720.7 L198.7 720.2 L197.1 719.8 L195.5 719.4 L193.8 718.9 L192.2 718.5 L190.6 718.0 L189.0 717.5 L187.4 717.1 L185.7 716.6 L184.1 716.2 L182.5 715.8 L180.9 715.3 L179.3 714.9 L177.6 714.4 L176.0 714.0 L174.4 713.5 L172.8 713.0 L171.2 712.6 L169.5 712.1 L167.9 711.7 L166.3 711.2 L164.7 710.8 L163.1 710.4 L161.4 709.9 L159.8 709.5 L158.2 709.0 L156.6 708.5 L155.0 708.1 L153.3 707.6 L151.7 707.2 L150.1 706.8 L148.5 706.3 L146.9 705.9 L145.2 705.4 L143.6 705.0 L142.0 704.5 L142.0 732.9 L143.6 730.2 L145.2 727.6 L146.9 727.9 L148.5 729.2 L150.1 730.1 L151.7 732.4 L153.3 736.2 L155.0 737.9 L156.6 736.1 L158.2 734.1 L159.8 733.9 L161.4 733.8 L163.1 733.5 L164.7 735.5 L166.3 739.6 L167.9 742.0 L169.5 741.3 L171.2 740.3 L172.8 740.3 L174.4 739.2 L176.0 737.7 L177.6 739.0 L179.3 742.9 L180.9 745.3 L182.5 745.5 L184.1 745.9 L185.7 746.5 L187.4 745.1 L189.0 742.9 L190.6 743.5 L192.2 746.4 L193.8 748.4 L195.5 749.1 L197.1 750.7 L198.7 752.2 L200.3 750.9 L201.9 748.6 L203.6 748.7 L205.2 750.7 L206.8 751.7Z" fill="url(#dots)" opacity="0.6"/>
<path d="M206.8 721.4 L205.2 720.9 L203.6 720.5 L201.9 720.0 L200.3 719.6 L198.7 719.1 L197.1 718.7 L195.5 718.2 L193.8 717.8 L192.2 717.3 L190.6 716.9 L189.0 716.4 L187.4 716.0 L185.7 715.6 L184.1 715.1 L182.5 714.7 L180.9 714.2 L179.3 713.8 L177.6 713.3 L176.0 712.9 L174.4 712.4 L172.8 712.0 L171.2 711.5 L169.5 711.1 L167.9 710.7 L166.3 710.2 L164.7 709.8 L163.1 709.3 L161.4 708.9 L159.8 708.4 L158.2 708.0 L156.6 707.5 L155.0 707.1 L153.3 706.6 L151.7 706.2 L150.1 705.7 L148.5 705.3 L146.9 704.9 L145.2 704.4 L143.6 704.0 L142.0 703.5 L142.0 711.0 L143.6 711.5 L145.2 711.9 L146.9 712.4 L148.5 712.9 L150.1 713.4 L151.7 713.9 L153.3 714.3 L155.0 714.8 L156.6 715.3 L158.2 715.8 L159.8 716.2 L161.4 716.7 L163.1 717.2 L164.7 717.7 L166.3 718.1 L167.9 718.6 L169.5 719.1 L171.2 719.6 L172.8 720.1 L174.4 720.5 L176.0 721.0 L177.6 721.5 L179.3 722.0 L180.9 722.4 L182.5 722.9 L184.1 723.4 L185.7 723.9 L187.4 724.3 L189.0 724.8 L190.6 725.3 L192.2 725.8 L193.8 726.3 L195.5 726.7 L197.1 727.2 L198.7 727.7 L200.3 728.2 L201.9 728.6 L203.6 729.1 L205.2 729.6 L206.8 730.1Z" fill="#e2957c" />
</g>
<g clip-path="url(#bcr)">
<linearGradient id="bgf" x1="0" x2="0" y1="0" y2="1"><stop offset="0.37" stop-color="#f5cf9f"/><stop offset="0.50" stop-color="#f1d094"/><stop offset="0.77" stop-color="#efce86"/></linearGradient>
<linearGradient id="bgd" x1="0" x2="0" y1="0" y2="1"><stop offset="0.1" stop-color="#e59a81"/><stop offset="1" stop-color="#efb28f"/></linearGradient>
<path d="M206.8 722.5 L210.2 722.1 L213.5 721.8 L216.9 721.5 L220.2 721.1 L223.6 720.8 L226.9 720.4 L230.3 720.0 L233.6 719.7 L237.0 719.4 L240.4 719.0 L243.7 718.6 L247.1 718.3 L250.4 718.0 L253.8 717.6 L257.1 717.2 L260.5 716.9 L263.8 716.5 L267.2 716.2 L270.5 715.9 L273.9 715.5 L277.3 715.1 L280.6 714.8 L284.0 714.5 L287.3 714.1 L290.7 713.8 L294.0 713.4 L297.4 713.0 L300.7 712.7 L304.1 712.4 L307.4 712.0 L310.8 711.6 L314.2 711.3 L317.5 711.0 L320.9 710.6 L324.2 710.2 L327.6 709.9 L330.9 709.5 L334.3 709.2 L337.6 708.9 L341.0 708.5 L341.0 807.8 L337.6 808.5 L334.3 809.3 L330.9 810.0 L327.6 810.7 L324.2 811.5 L320.9 812.2 L317.5 812.9 L314.2 813.7 L310.8 814.4 L307.4 815.1 L304.1 815.9 L300.7 816.6 L297.4 817.4 L294.0 818.1 L290.7 818.8 L287.3 819.6 L284.0 820.3 L280.6 821.0 L277.3 821.8 L273.9 822.5 L270.5 823.2 L267.2 824.0 L263.8 824.7 L260.5 825.4 L257.1 826.2 L253.8 826.9 L250.4 827.6 L247.1 828.4 L243.7 829.1 L240.4 829.9 L237.0 830.6 L233.6 831.3 L230.3 832.1 L226.9 832.8 L223.6 833.5 L220.2 834.3 L216.9 835.0 L213.5 835.7 L210.2 836.5 L206.8 837.2Z" fill="url(#bgf)" />
<g filter="url(#blur1)"><ellipse cx="337.7" cy="771.4" rx="6.4" ry="4.0" fill="#ecc87e" opacity="0.5"/><ellipse cx="332.6" cy="764.8" rx="4.4" ry="2.7" fill="#ecc87e" opacity="0.5"/><ellipse cx="299.5" cy="775.4" rx="6.9" ry="3.8" fill="#f6dfa4" opacity="0.5"/><ellipse cx="340.7" cy="755.1" rx="4.5" ry="3.2" fill="#f5dc9e" opacity="0.5"/><ellipse cx="324.5" cy="777.1" rx="6.4" ry="3.0" fill="#f4d896" opacity="0.5"/><ellipse cx="233.3" cy="777.5" rx="6.8" ry="2.9" fill="#ecc87e" opacity="0.5"/><ellipse cx="285.1" cy="785.9" rx="7.0" ry="4.0" fill="#f6dfa4" opacity="0.5"/><ellipse cx="250.6" cy="765.9" rx="4.1" ry="3.4" fill="#ecc87e" opacity="0.5"/><ellipse cx="278.9" cy="775.1" rx="6.3" ry="3.8" fill="#ecc87e" opacity="0.5"/><ellipse cx="287.7" cy="766.7" rx="6.1" ry="4.5" fill="#f4d896" opacity="0.5"/><ellipse cx="302.2" cy="763.1" rx="3.9" ry="3.4" fill="#f6dfa4" opacity="0.5"/><ellipse cx="283.6" cy="769.5" rx="4.3" ry="3.9" fill="#f5dc9e" opacity="0.5"/><ellipse cx="249.6" cy="772.4" rx="4.0" ry="3.2" fill="#ecc87e" opacity="0.5"/><ellipse cx="339.4" cy="779.1" rx="6.7" ry="4.3" fill="#f6dfa4" opacity="0.5"/><ellipse cx="208.3" cy="779.2" rx="7.0" ry="3.9" fill="#f6dfa4" opacity="0.5"/><ellipse cx="233.6" cy="775.0" rx="3.8" ry="3.5" fill="#ecc87e" opacity="0.5"/><ellipse cx="290.1" cy="779.0" rx="5.7" ry="4.2" fill="#f5dc9e" opacity="0.5"/><ellipse cx="331.1" cy="773.2" rx="5.5" ry="2.6" fill="#f6dfa4" opacity="0.5"/><ellipse cx="294.5" cy="760.3" rx="5.2" ry="2.9" fill="#f6dfa4" opacity="0.5"/><ellipse cx="243.7" cy="792.7" rx="3.5" ry="2.8" fill="#f5dc9e" opacity="0.5"/><ellipse cx="321.3" cy="762.4" rx="4.2" ry="4.4" fill="#f5dc9e" opacity="0.5"/><ellipse cx="218.8" cy="808.1" rx="5.5" ry="3.1" fill="#ecc87e" opacity="0.5"/><ellipse cx="213.2" cy="798.8" rx="5.6" ry="4.1" fill="#ecc87e" opacity="0.5"/><ellipse cx="209.6" cy="783.0" rx="5.3" ry="3.0" fill="#f6dfa4" opacity="0.5"/><ellipse cx="302.5" cy="761.1" rx="6.7" ry="3.5" fill="#f4d896" opacity="0.5"/><ellipse cx="219.1" cy="798.3" rx="4.9" ry="2.8" fill="#ecc87e" opacity="0.5"/><ellipse cx="326.6" cy="751.9" rx="5.9" ry="3.8" fill="#ecc87e" opacity="0.5"/><ellipse cx="328.7" cy="776.5" rx="6.5" ry="3.4" fill="#f6dfa4" opacity="0.5"/><ellipse cx="323.5" cy="779.0" rx="5.9" ry="3.9" fill="#f6dfa4" opacity="0.5"/><ellipse cx="228.2" cy="790.0" rx="5.2" ry="3.7" fill="#f5dc9e" opacity="0.5"/><ellipse cx="285.0" cy="791.6" rx="6.7" ry="4.4" fill="#ecc87e" opacity="0.5"/><ellipse cx="209.6" cy="788.4" rx="5.7" ry="4.1" fill="#f4d896" opacity="0.5"/><ellipse cx="303.3" cy="758.0" rx="5.9" ry="4.3" fill="#ecc87e" opacity="0.5"/><ellipse cx="215.5" cy="792.7" rx="4.7" ry="3.6" fill="#f5dc9e" opacity="0.5"/><ellipse cx="257.3" cy="798.5" rx="6.7" ry="4.1" fill="#ecc87e" opacity="0.5"/><ellipse cx="320.6" cy="785.7" rx="4.1" ry="2.6" fill="#f6dfa4" opacity="0.5"/><ellipse cx="275.1" cy="788.4" rx="5.9" ry="4.2" fill="#f5dc9e" opacity="0.5"/><ellipse cx="241.9" cy="771.1" rx="6.9" ry="2.6" fill="#f5dc9e" opacity="0.5"/><ellipse cx="214.5" cy="785.7" rx="3.8" ry="2.6" fill="#f6dfa4" opacity="0.5"/><ellipse cx="226.6" cy="804.3" rx="4.4" ry="2.7" fill="#ecc87e" opacity="0.5"/><ellipse cx="289.7" cy="779.1" rx="6.9" ry="2.8" fill="#f5dc9e" opacity="0.5"/><ellipse cx="235.0" cy="803.8" rx="6.8" ry="3.4" fill="#f4d896" opacity="0.5"/><ellipse cx="270.8" cy="787.4" rx="5.4" ry="4.2" fill="#f5dc9e" opacity="0.5"/><ellipse cx="243.8" cy="783.5" rx="5.0" ry="4.2" fill="#ecc87e" opacity="0.5"/><ellipse cx="303.9" cy="756.7" rx="6.4" ry="4.4" fill="#f6dfa4" opacity="0.5"/><ellipse cx="318.8" cy="779.8" rx="6.1" ry="3.3" fill="#f6dfa4" opacity="0.5"/><ellipse cx="320.5" cy="774.9" rx="4.9" ry="4.1" fill="#f4d896" opacity="0.5"/><ellipse cx="227.3" cy="772.5" rx="4.8" ry="4.1" fill="#f6dfa4" opacity="0.5"/><ellipse cx="259.4" cy="795.5" rx="4.2" ry="3.6" fill="#ecc87e" opacity="0.5"/><ellipse cx="261.7" cy="773.4" rx="5.5" ry="3.6" fill="#f6dfa4" opacity="0.5"/><ellipse cx="255.3" cy="764.6" rx="6.5" ry="3.5" fill="#f4d896" opacity="0.5"/><ellipse cx="326.8" cy="768.4" rx="5.7" ry="2.9" fill="#f5dc9e" opacity="0.5"/><ellipse cx="247.7" cy="796.9" rx="4.8" ry="3.0" fill="#f6dfa4" opacity="0.5"/><ellipse cx="247.4" cy="800.6" rx="6.7" ry="2.6" fill="#ecc87e" opacity="0.5"/><ellipse cx="326.0" cy="755.6" rx="5.8" ry="3.6" fill="#f4d896" opacity="0.5"/><ellipse cx="224.3" cy="787.3" rx="4.1" ry="4.1" fill="#f4d896" opacity="0.5"/><ellipse cx="314.5" cy="767.3" rx="4.5" ry="3.4" fill="#f6dfa4" opacity="0.5"/><ellipse cx="236.1" cy="791.0" rx="6.0" ry="2.8" fill="#f4d896" opacity="0.5"/><ellipse cx="220.8" cy="779.1" rx="5.0" ry="4.1" fill="#f4d896" opacity="0.5"/><ellipse cx="268.1" cy="765.1" rx="5.5" ry="3.1" fill="#f6dfa4" opacity="0.5"/><ellipse cx="295.5" cy="757.4" rx="5.7" ry="3.8" fill="#f5dc9e" opacity="0.5"/></g>
<path d="M206.8 811.0 L210.2 810.4 L213.5 809.7 L216.9 809.0 L220.2 808.3 L223.6 807.6 L226.9 806.9 L230.3 806.3 L233.6 805.6 L237.0 804.9 L240.4 804.2 L243.7 803.5 L247.1 802.8 L250.4 802.2 L253.8 801.5 L257.1 800.8 L260.5 800.1 L263.8 799.4 L267.2 798.7 L270.5 798.0 L273.9 797.4 L277.3 796.7 L280.6 796.0 L284.0 795.3 L287.3 794.6 L290.7 793.9 L294.0 793.3 L297.4 792.6 L300.7 791.9 L304.1 791.2 L307.4 790.5 L310.8 789.8 L314.2 789.1 L317.5 788.5 L320.9 787.8 L324.2 787.1 L327.6 786.4 L330.9 785.7 L334.3 785.0 L337.6 784.4 L341.0 783.7 L341.0 812.8 L337.6 813.5 L334.3 814.3 L330.9 815.0 L327.6 815.8 L324.2 816.5 L320.9 817.3 L317.5 818.0 L314.2 818.8 L310.8 819.6 L307.4 820.3 L304.1 821.1 L300.7 821.8 L297.4 822.6 L294.0 823.3 L290.7 824.1 L287.3 824.8 L284.0 825.6 L280.6 826.3 L277.3 827.1 L273.9 827.8 L270.5 828.6 L267.2 829.4 L263.8 830.1 L260.5 830.9 L257.1 831.6 L253.8 832.4 L250.4 833.1 L247.1 833.9 L243.7 834.6 L240.4 835.4 L237.0 836.1 L233.6 836.9 L230.3 837.7 L226.9 838.4 L223.6 839.2 L220.2 839.9 L216.9 840.7 L213.5 841.4 L210.2 842.2 L206.8 842.9Z" fill="#df7b58" />
<path d="M206.8 811.0 L210.2 810.4 L213.5 809.7 L216.9 809.0 L220.2 808.3 L223.6 807.6 L226.9 806.9 L230.3 806.3 L233.6 805.6 L237.0 804.9 L240.4 804.2 L243.7 803.5 L247.1 802.8 L250.4 802.2 L253.8 801.5 L257.1 800.8 L260.5 800.1 L263.8 799.4 L267.2 798.7 L270.5 798.0 L273.9 797.4 L277.3 796.7 L280.6 796.0 L284.0 795.3 L287.3 794.6 L290.7 793.9 L294.0 793.3 L297.4 792.6 L300.7 791.9 L304.1 791.2 L307.4 790.5 L310.8 789.8 L314.2 789.1 L317.5 788.5 L320.9 787.8 L324.2 787.1 L327.6 786.4 L330.9 785.7 L334.3 785.0 L337.6 784.4 L341.0 783.7 L341.0 788.1 L337.6 788.8 L334.3 789.5 L330.9 790.2 L327.6 790.9 L324.2 791.6 L320.9 792.3 L317.5 793.1 L314.2 793.8 L310.8 794.5 L307.4 795.2 L304.1 795.9 L300.7 796.6 L297.4 797.3 L294.0 798.0 L290.7 798.7 L287.3 799.4 L284.0 800.1 L280.6 800.8 L277.3 801.5 L273.9 802.2 L270.5 802.9 L267.2 803.6 L263.8 804.3 L260.5 805.0 L257.1 805.7 L253.8 806.4 L250.4 807.1 L247.1 807.8 L243.7 808.5 L240.4 809.2 L237.0 809.9 L233.6 810.6 L230.3 811.3 L226.9 812.0 L223.6 812.7 L220.2 813.4 L216.9 814.1 L213.5 814.8 L210.2 815.5 L206.8 816.2Z" fill="#ea9470" opacity="0.7" filter="url(#blur1)"/>
<g filter="url(#blur1)"><ellipse cx="304.0" cy="808.3" rx="5.3" ry="4.2" fill="#d97250" opacity="0.5"/><ellipse cx="242.7" cy="825.1" rx="5.9" ry="4.0" fill="#e48763" opacity="0.5"/><ellipse cx="274.8" cy="808.5" rx="4.1" ry="2.6" fill="#d97250" opacity="0.5"/><ellipse cx="219.1" cy="820.5" rx="3.7" ry="4.0" fill="#e48763" opacity="0.5"/><ellipse cx="276.0" cy="809.6" rx="5.0" ry="4.3" fill="#d97250" opacity="0.5"/><ellipse cx="331.4" cy="801.5" rx="5.4" ry="3.4" fill="#d97250" opacity="0.5"/><ellipse cx="235.1" cy="828.9" rx="3.7" ry="2.8" fill="#e8926c" opacity="0.5"/><ellipse cx="283.1" cy="815.4" rx="5.5" ry="3.6" fill="#d97250" opacity="0.5"/><ellipse cx="324.0" cy="808.1" rx="5.5" ry="3.4" fill="#e8926c" opacity="0.5"/><ellipse cx="244.2" cy="821.4" rx="4.9" ry="3.0" fill="#e8926c" opacity="0.5"/><ellipse cx="336.1" cy="798.3" rx="3.8" ry="2.8" fill="#e48763" opacity="0.5"/><ellipse cx="331.1" cy="799.9" rx="4.1" ry="2.7" fill="#e8926c" opacity="0.5"/><ellipse cx="252.4" cy="815.6" rx="6.6" ry="3.4" fill="#e8926c" opacity="0.5"/><ellipse cx="297.5" cy="812.7" rx="6.1" ry="3.6" fill="#e48763" opacity="0.5"/><ellipse cx="298.8" cy="798.7" rx="4.3" ry="2.8" fill="#d97250" opacity="0.5"/><ellipse cx="320.1" cy="794.4" rx="6.2" ry="3.4" fill="#e8926c" opacity="0.5"/><ellipse cx="301.5" cy="815.9" rx="6.4" ry="3.9" fill="#d97250" opacity="0.5"/><ellipse cx="215.6" cy="829.6" rx="6.0" ry="4.0" fill="#e48763" opacity="0.5"/><ellipse cx="288.4" cy="805.5" rx="3.5" ry="4.2" fill="#d97250" opacity="0.5"/><ellipse cx="210.4" cy="830.5" rx="6.1" ry="4.1" fill="#e48763" opacity="0.5"/><ellipse cx="302.5" cy="798.6" rx="5.6" ry="4.5" fill="#e8926c" opacity="0.5"/><ellipse cx="236.1" cy="827.7" rx="4.4" ry="2.5" fill="#d97250" opacity="0.5"/><ellipse cx="337.6" cy="802.2" rx="4.7" ry="3.3" fill="#e48763" opacity="0.5"/><ellipse cx="333.6" cy="796.4" rx="4.0" ry="3.1" fill="#e8926c" opacity="0.5"/><ellipse cx="250.0" cy="826.5" rx="3.8" ry="4.3" fill="#d97250" opacity="0.5"/><ellipse cx="308.8" cy="796.5" rx="4.3" ry="2.8" fill="#e8926c" opacity="0.5"/></g>
<path d="M206.8 720.2 L210.2 719.9 L213.5 719.5 L216.9 719.2 L220.2 718.8 L223.6 718.5 L226.9 718.2 L230.3 717.8 L233.6 717.5 L237.0 717.1 L240.4 716.8 L243.7 716.4 L247.1 716.1 L250.4 715.8 L253.8 715.4 L257.1 715.1 L260.5 714.7 L263.8 714.4 L267.2 714.0 L270.5 713.7 L273.9 713.4 L277.3 713.0 L280.6 712.7 L284.0 712.3 L287.3 712.0 L290.7 711.6 L294.0 711.3 L297.4 711.0 L300.7 710.6 L304.1 710.3 L307.4 709.9 L310.8 709.6 L314.2 709.3 L317.5 708.9 L320.9 708.6 L324.2 708.2 L327.6 707.9 L330.9 707.5 L334.3 707.2 L337.6 706.9 L341.0 706.5 L341.0 748.7 L337.6 748.5 L334.3 750.0 L330.9 751.7 L327.6 751.9 L324.2 751.8 L320.9 752.9 L317.5 753.9 L314.2 753.2 L310.8 752.7 L307.4 753.9 L304.1 755.4 L300.7 755.5 L297.4 755.9 L294.0 757.6 L290.7 758.8 L287.3 758.0 L284.0 757.5 L280.6 758.4 L277.3 759.1 L273.9 758.9 L270.5 759.6 L267.2 761.8 L263.8 763.3 L260.5 762.8 L257.1 762.6 L253.8 763.3 L250.4 763.4 L247.1 762.5 L243.7 763.1 L240.4 765.6 L237.0 767.2 L233.6 767.3 L230.3 767.7 L226.9 768.6 L223.6 768.1 L220.2 766.7 L216.9 766.9 L213.5 769.1 L210.2 770.6 L206.8 771.2Z" fill="#f8c6a1" filter="url(#blur2)"/>
<path d="M206.8 720.2 L210.2 719.9 L213.5 719.5 L216.9 719.2 L220.2 718.8 L223.6 718.5 L226.9 718.2 L230.3 717.8 L233.6 717.5 L237.0 717.1 L240.4 716.8 L243.7 716.4 L247.1 716.1 L250.4 715.8 L253.8 715.4 L257.1 715.1 L260.5 714.7 L263.8 714.4 L267.2 714.0 L270.5 713.7 L273.9 713.4 L277.3 713.0 L280.6 712.7 L284.0 712.3 L287.3 712.0 L290.7 711.6 L294.0 711.3 L297.4 711.0 L300.7 710.6 L304.1 710.3 L307.4 709.9 L310.8 709.6 L314.2 709.3 L317.5 708.9 L320.9 708.6 L324.2 708.2 L327.6 707.9 L330.9 707.5 L334.3 707.2 L337.6 706.9 L341.0 706.5 L341.0 744.8 L337.6 744.5 L334.3 746.0 L330.9 747.7 L327.6 747.9 L324.2 747.7 L320.9 748.8 L317.5 749.8 L314.2 749.1 L310.8 748.6 L307.4 749.8 L304.1 751.2 L300.7 751.3 L297.4 751.7 L294.0 753.4 L290.7 754.6 L287.3 753.8 L284.0 753.2 L280.6 754.1 L277.3 754.9 L273.9 754.6 L270.5 755.3 L267.2 757.5 L263.8 759.0 L260.5 758.5 L257.1 758.2 L253.8 758.9 L250.4 759.0 L247.1 758.1 L243.7 758.7 L240.4 761.1 L237.0 762.8 L233.6 762.9 L230.3 763.2 L226.9 764.1 L223.6 763.6 L220.2 762.1 L216.9 762.4 L213.5 764.5 L210.2 766.1 L206.8 766.6Z" fill="#f8c49e" filter="url(#blur1)"/>
<path d="M206.8 720.2 L210.2 719.9 L213.5 719.5 L216.9 719.2 L220.2 718.8 L223.6 718.5 L226.9 718.2 L230.3 717.8 L233.6 717.5 L237.0 717.1 L240.4 716.8 L243.7 716.4 L247.1 716.1 L250.4 715.8 L253.8 715.4 L257.1 715.1 L260.5 714.7 L263.8 714.4 L267.2 714.0 L270.5 713.7 L273.9 713.4 L277.3 713.0 L280.6 712.7 L284.0 712.3 L287.3 712.0 L290.7 711.6 L294.0 711.3 L297.4 711.0 L300.7 710.6 L304.1 710.3 L307.4 709.9 L310.8 709.6 L314.2 709.3 L317.5 708.9 L320.9 708.6 L324.2 708.2 L327.6 707.9 L330.9 707.5 L334.3 707.2 L337.6 706.9 L341.0 706.5 L341.0 734.8 L337.6 734.9 L334.3 736.4 L330.9 736.8 L327.6 738.3 L324.2 742.1 L320.9 744.2 L317.5 742.5 L314.2 740.2 L310.8 740.3 L307.4 740.5 L304.1 739.6 L300.7 740.6 L297.4 744.4 L294.0 747.0 L290.7 746.1 L287.3 745.1 L284.0 745.8 L280.6 745.3 L277.3 743.3 L273.9 743.7 L270.5 747.0 L267.2 749.2 L263.8 748.9 L260.5 749.2 L257.1 750.7 L253.8 750.2 L250.4 747.8 L247.1 747.7 L243.7 750.3 L240.4 751.5 L237.0 751.2 L233.6 752.5 L230.3 754.8 L226.9 754.6 L223.6 752.5 L220.2 752.5 L216.9 754.3 L213.5 754.4 L210.2 753.6 L206.8 755.3Z" fill="#eeb091" filter="url(#blur2)" opacity="0.9"/>
<path d="M206.8 720.2 L210.2 719.9 L213.5 719.5 L216.9 719.2 L220.2 718.8 L223.6 718.5 L226.9 718.2 L230.3 717.8 L233.6 717.5 L237.0 717.1 L240.4 716.8 L243.7 716.4 L247.1 716.1 L250.4 715.8 L253.8 715.4 L257.1 715.1 L260.5 714.7 L263.8 714.4 L267.2 714.0 L270.5 713.7 L273.9 713.4 L277.3 713.0 L280.6 712.7 L284.0 712.3 L287.3 712.0 L290.7 711.6 L294.0 711.3 L297.4 711.0 L300.7 710.6 L304.1 710.3 L307.4 709.9 L310.8 709.6 L314.2 709.3 L317.5 708.9 L320.9 708.6 L324.2 708.2 L327.6 707.9 L330.9 707.5 L334.3 707.2 L337.6 706.9 L341.0 706.5 L341.0 732.0 L337.6 732.2 L334.3 733.6 L330.9 734.0 L327.6 735.4 L324.2 738.8 L320.9 740.8 L317.5 739.2 L314.2 737.2 L310.8 737.3 L307.4 737.6 L304.1 736.7 L300.7 737.7 L297.4 741.2 L294.0 743.5 L290.7 742.8 L287.3 741.9 L284.0 742.5 L280.6 742.1 L277.3 740.4 L273.9 740.7 L270.5 743.8 L267.2 745.8 L263.8 745.5 L260.5 745.9 L257.1 747.3 L253.8 746.8 L250.4 744.7 L247.1 744.7 L243.7 747.0 L240.4 748.1 L237.0 747.9 L233.6 749.1 L230.3 751.2 L226.9 751.1 L223.6 749.2 L220.2 749.3 L216.9 750.9 L213.5 751.0 L210.2 750.4 L206.8 751.9Z" fill="url(#bgd)" filter="url(#blur1)"/>
<path d="M206.8 722.5 L210.2 722.1 L213.5 721.8 L216.9 721.5 L220.2 721.1 L223.6 720.8 L226.9 720.4 L230.3 720.0 L233.6 719.7 L237.0 719.4 L240.4 719.0 L243.7 718.6 L247.1 718.3 L250.4 718.0 L253.8 717.6 L257.1 717.2 L260.5 716.9 L263.8 716.5 L267.2 716.2 L270.5 715.9 L273.9 715.5 L277.3 715.1 L280.6 714.8 L284.0 714.5 L287.3 714.1 L290.7 713.8 L294.0 713.4 L297.4 713.0 L300.7 712.7 L304.1 712.4 L307.4 712.0 L310.8 711.6 L314.2 711.3 L317.5 711.0 L320.9 710.6 L324.2 710.2 L327.6 709.9 L330.9 709.5 L334.3 709.2 L337.6 708.9 L341.0 708.5 L341.0 732.3 L337.6 732.5 L334.3 733.8 L330.9 734.2 L327.6 735.4 L324.2 738.5 L320.9 740.4 L317.5 739.0 L314.2 737.3 L310.8 737.4 L307.4 737.7 L304.1 737.0 L300.7 737.9 L297.4 741.1 L294.0 743.2 L290.7 742.6 L287.3 741.9 L284.0 742.5 L280.6 742.2 L277.3 740.7 L273.9 741.0 L270.5 743.8 L267.2 745.6 L263.8 745.4 L260.5 745.8 L257.1 747.1 L253.8 746.7 L250.4 744.9 L247.1 744.9 L243.7 747.0 L240.4 748.1 L237.0 747.9 L233.6 749.0 L230.3 751.0 L226.9 750.9 L223.6 749.3 L220.2 749.4 L216.9 750.9 L213.5 751.1 L210.2 750.5 L206.8 752.0Z" fill="url(#dots)" />
<path d="M206.8 721.4 L210.2 721.0 L213.5 720.7 L216.9 720.3 L220.2 720.0 L223.6 719.6 L226.9 719.3 L230.3 718.9 L233.6 718.6 L237.0 718.2 L240.4 717.9 L243.7 717.5 L247.1 717.2 L250.4 716.9 L253.8 716.5 L257.1 716.2 L260.5 715.8 L263.8 715.5 L267.2 715.1 L270.5 714.8 L273.9 714.4 L277.3 714.1 L280.6 713.7 L284.0 713.4 L287.3 713.0 L290.7 712.7 L294.0 712.4 L297.4 712.0 L300.7 711.7 L304.1 711.3 L307.4 711.0 L310.8 710.6 L314.2 710.3 L317.5 709.9 L320.9 709.6 L324.2 709.2 L327.6 708.9 L330.9 708.5 L334.3 708.2 L337.6 707.9 L341.0 707.5 L341.0 715.1 L337.6 715.4 L334.3 715.8 L330.9 716.2 L327.6 716.6 L324.2 716.9 L320.9 717.3 L317.5 717.7 L314.2 718.1 L310.8 718.4 L307.4 718.8 L304.1 719.2 L300.7 719.6 L297.4 719.9 L294.0 720.3 L290.7 720.7 L287.3 721.1 L284.0 721.4 L280.6 721.8 L277.3 722.2 L273.9 722.6 L270.5 722.9 L267.2 723.3 L263.8 723.7 L260.5 724.1 L257.1 724.4 L253.8 724.8 L250.4 725.2 L247.1 725.6 L243.7 725.9 L240.4 726.3 L237.0 726.7 L233.6 727.1 L230.3 727.4 L226.9 727.8 L223.6 728.2 L220.2 728.6 L216.9 728.9 L213.5 729.3 L210.2 729.7 L206.8 730.1Z" fill="#da846a" />
</g>
<path d="M142 704.500 C165 700.500 195 697.500 222 695.500 S252 692.800 262 693.500 C282 696 312 703 341 708.500 L206.800 722.500Z" fill="#fce8c2"/>
<clipPath id="bct"><path d="M142 704.500 C165 700.500 195 697.500 222 695.500 S252 692.800 262 693.500 C282 696 312 703 341 708.500 L206.800 722.500Z"/></clipPath>
<g clip-path="url(#bct)">
<ellipse cx="206" cy="703" rx="34" ry="6" fill="#fef2d6" opacity="0.9" transform="rotate(-4 206 703)"/>
<ellipse cx="196" cy="714.500" rx="28" ry="4" fill="#fdeecd" opacity="0.8" transform="rotate(8 196 714.500)"/>
<ellipse cx="276" cy="707.500" rx="24" ry="4" fill="#fdeecd" opacity="0.8" transform="rotate(3 276 707.500)"/>
<path d="M265 694 Q247 699 242 711.500 Q270 702 296 706 L333 709.500 L341 708.500 C312 703 282 696 265 694Z" fill="#f8dcae" opacity="0.6"/>
<g fill="none" stroke="#dfbf98" stroke-width="0.8" stroke-linecap="round">
<path d="M152 706 Q178 713 207 708 Q228 702 242 711.500"/>
<path d="M242 711.500 Q236 700 214 697"/>
<path d="M242 711.500 Q247 699 265 694"/>
<path d="M242 711.500 Q270 702 296 706 L333 709.500"/>
<path d="M242 711.500 Q238 715 226 718 L210 720.500"/>
<path d="M240 715.500 Q262 716.500 280 713 Q292 711 306 713"/>
</g></g>
<ellipse cx="186.1" cy="781.8" rx="3.4" ry="3.4" fill="url(#gblob2)" stroke="#5698bf" stroke-width="0.5"/>
<ellipse cx="192.8" cy="781.3" rx="2.4" ry="2.4" fill="url(#gblob2)" stroke="#5698bf" stroke-width="0.5"/>
<ellipse cx="192.3" cy="786.9" rx="3.7" ry="3" fill="url(#gblob2)" stroke="#5698bf" stroke-width="0.5"/>
<ellipse cx="205" cy="792.8" rx="2.5" ry="2.5" fill="url(#gblob2)" stroke="#5698bf" stroke-width="0.5"/>
<ellipse cx="200.7" cy="786" rx="5.9" ry="4.2" fill="url(#gblob2)" stroke="#5698bf" stroke-width="0.5"/>
<ellipse cx="215" cy="793.6" rx="2.4" ry="2.4" fill="url(#gblob2)" stroke="#5698bf" stroke-width="0.5"/>
<ellipse cx="211.7" cy="788.6" rx="3.2" ry="3.6" fill="url(#gblob2)" stroke="#5698bf" stroke-width="0.5"/>
<ellipse cx="221" cy="786.9" rx="6.7" ry="4.5" fill="url(#gblob2)" stroke="#5698bf" stroke-width="0.5"/>
<ellipse cx="237" cy="781.8" rx="7" ry="4.2" fill="url(#gblob2)" stroke="#5698bf" stroke-width="0.5"/>
<ellipse cx="246.7" cy="786.9" rx="3.7" ry="4.7" fill="url(#gblob2)" stroke="#5698bf" stroke-width="0.5"/>
<ellipse cx="232.7" cy="789.9" rx="7.6" ry="5" fill="url(#gblob2)" stroke="#5698bf" stroke-width="0.5"/>
<ellipse cx="254.6" cy="782.7" rx="4.2" ry="4" fill="url(#gblob2)" stroke="#5698bf" stroke-width="0.5"/>
<ellipse cx="265.6" cy="780.5" rx="5" ry="3" fill="url(#gblob2)" stroke="#5698bf" stroke-width="0.5"/>
<ellipse cx="262.2" cy="786.6" rx="5.9" ry="4.4" fill="url(#gblob2)" stroke="#5698bf" stroke-width="0.5"/>
<ellipse cx="275.7" cy="778.8" rx="4.2" ry="2.5" fill="url(#gblob2)" stroke="#5698bf" stroke-width="0.5"/>
<ellipse cx="274.3" cy="784.4" rx="5.4" ry="4" fill="url(#gblob2)" stroke="#5698bf" stroke-width="0.5"/>
<ellipse cx="282.7" cy="779.8" rx="3.7" ry="4" fill="url(#gblob2)" stroke="#5698bf" stroke-width="0.5"/>
<ellipse cx="290.5" cy="780.5" rx="4.2" ry="3" fill="url(#gblob2)" stroke="#5698bf" stroke-width="0.5"/>
<ellipse cx="296.7" cy="777.6" rx="2.9" ry="3.4" fill="url(#gblob2)" stroke="#5698bf" stroke-width="0.5"/>
<ellipse cx="186.2" cy="780.4" rx="1.0" ry="0.7" fill="#c4e2ee" opacity="0.8"/>
<ellipse cx="192.4" cy="785.7" rx="1.1" ry="0.7" fill="#c4e2ee" opacity="0.8"/>
<ellipse cx="200.2" cy="784.3" rx="1.8" ry="0.9" fill="#c4e2ee" opacity="0.8"/>
<ellipse cx="220.3" cy="785.1" rx="2.0" ry="1.0" fill="#c4e2ee" opacity="0.8"/>
<ellipse cx="236.2" cy="780.1" rx="2.1" ry="0.9" fill="#c4e2ee" opacity="0.8"/>
<ellipse cx="246.8" cy="785.0" rx="1.1" ry="1.0" fill="#c4e2ee" opacity="0.8"/>
<ellipse cx="231.8" cy="787.9" rx="2.3" ry="1.1" fill="#c4e2ee" opacity="0.8"/>
<ellipse cx="254.5" cy="781.1" rx="1.3" ry="0.9" fill="#c4e2ee" opacity="0.8"/>
<ellipse cx="265.4" cy="779.3" rx="1.5" ry="0.7" fill="#c4e2ee" opacity="0.8"/>
<ellipse cx="261.7" cy="784.8" rx="1.8" ry="1.0" fill="#c4e2ee" opacity="0.8"/>
<ellipse cx="275.6" cy="777.8" rx="1.3" ry="0.6" fill="#c4e2ee" opacity="0.8"/>
<ellipse cx="273.9" cy="782.8" rx="1.6" ry="0.9" fill="#c4e2ee" opacity="0.8"/>
<ellipse cx="282.8" cy="778.2" rx="1.1" ry="0.9" fill="#c4e2ee" opacity="0.8"/>
<ellipse cx="290.4" cy="779.3" rx="1.3" ry="0.7" fill="#c4e2ee" opacity="0.8"/>
</g>
<g id="card3">
<path d="M393.900 697.800a16 16 0 0 1 16-16H631.500a16 16 0 0 1 16 16V830.500a14.200 14.200 0 0 1-14.200 14.200H408.100a14.200 14.200 0 0 1-14.200-14.200Z" fill="#f4efe9"/>
<path d="M395.200 732H646.200V830.500a13 13 0 0 1-13 13H408.200a13 13 0 0 1-13-13Z" fill="#ccb0cd"/>
<g clip-path="url(#clipCard3)">
<path d="M499.0 775.0 Q502.0 789.0 508.0 795.0 T517.0 815.0" fill="none" stroke="#dbc6dd" stroke-width="6" stroke-linecap="round" opacity="0.5" filter="url(#blur1)"/>
<path d="M628.2 763.2 Q631.2 777.2 637.2 783.2 T646.2 803.2" fill="none" stroke="#dbc6dd" stroke-width="6" stroke-linecap="round" opacity="0.5" filter="url(#blur1)"/>
<path d="M514.1 778.4 Q517.1 792.4 523.1 798.4 T532.1 818.4" fill="none" stroke="#dbc6dd" stroke-width="6" stroke-linecap="round" opacity="0.5" filter="url(#blur1)"/>
<path d="M425.6 769.0 Q428.6 783.0 434.6 789.0 T443.6 809.0" fill="none" stroke="#dbc6dd" stroke-width="6" stroke-linecap="round" opacity="0.5" filter="url(#blur1)"/>
<path d="M547.6 804.1 Q550.6 818.1 556.6 824.1 T565.6 844.1" fill="none" stroke="#dbc6dd" stroke-width="6" stroke-linecap="round" opacity="0.5" filter="url(#blur1)"/>
<path d="M400.8 742.9 Q403.8 756.9 409.8 762.9 T418.8 782.9" fill="none" stroke="#dbc6dd" stroke-width="6" stroke-linecap="round" opacity="0.5" filter="url(#blur1)"/>
<path d="M399.8 806.2 Q402.8 820.2 408.8 826.2 T417.8 846.2" fill="none" stroke="#dbc6dd" stroke-width="6" stroke-linecap="round" opacity="0.5" filter="url(#blur1)"/>
<path d="M565.0 710.2 Q568.0 724.2 574.0 730.2 T583.0 750.2" fill="none" stroke="#dbc6dd" stroke-width="6" stroke-linecap="round" opacity="0.5" filter="url(#blur1)"/>
<path d="M644.1 825.6 Q647.1 839.6 653.1 845.6 T662.1 865.6" fill="none" stroke="#dbc6dd" stroke-width="6" stroke-linecap="round" opacity="0.5" filter="url(#blur1)"/>
<path d="M554.2 781.9 Q557.2 795.9 563.2 801.9 T572.2 821.9" fill="none" stroke="#dbc6dd" stroke-width="6" stroke-linecap="round" opacity="0.5" filter="url(#blur1)"/>
<path d="M418.2 706.9 Q421.2 720.9 427.2 726.9 T436.2 746.9" fill="none" stroke="#dbc6dd" stroke-width="6" stroke-linecap="round" opacity="0.5" filter="url(#blur1)"/>
<path d="M519.8 712.4 Q522.8 726.4 528.8 732.4 T537.8 752.4" fill="none" stroke="#dbc6dd" stroke-width="6" stroke-linecap="round" opacity="0.5" filter="url(#blur1)"/>
<path d="M427.1 735.2 Q430.1 749.2 436.1 755.2 T445.1 775.2" fill="none" stroke="#dbc6dd" stroke-width="6" stroke-linecap="round" opacity="0.5" filter="url(#blur1)"/>
<path d="M383.2 763.0 Q386.2 777.0 392.2 783.0 T401.2 803.0" fill="none" stroke="#dbc6dd" stroke-width="6" stroke-linecap="round" opacity="0.5" filter="url(#blur1)"/>
<path d="M495.7 810.3 Q498.7 824.3 504.7 830.3 T513.7 850.3" fill="none" stroke="#dbc6dd" stroke-width="6" stroke-linecap="round" opacity="0.5" filter="url(#blur1)"/>
<path d="M517.2 785.0 Q520.2 799.0 526.2 805.0 T535.2 825.0" fill="none" stroke="#dbc6dd" stroke-width="6" stroke-linecap="round" opacity="0.5" filter="url(#blur1)"/>
<path d="M511.9 787.8 Q514.9 801.8 520.9 807.8 T529.9 827.8" fill="none" stroke="#dbc6dd" stroke-width="6" stroke-linecap="round" opacity="0.5" filter="url(#blur1)"/>
<path d="M500.3 739.8 Q503.3 753.8 509.3 759.8 T518.3 779.8" fill="none" stroke="#dbc6dd" stroke-width="6" stroke-linecap="round" opacity="0.5" filter="url(#blur1)"/>
<path d="M648.4 829.5 Q651.4 843.5 657.4 849.5 T666.4 869.5" fill="none" stroke="#dbc6dd" stroke-width="6" stroke-linecap="round" opacity="0.5" filter="url(#blur1)"/>
<path d="M605.2 793.5 Q608.2 807.5 614.2 813.5 T623.2 833.5" fill="none" stroke="#dbc6dd" stroke-width="6" stroke-linecap="round" opacity="0.5" filter="url(#blur1)"/>
<path d="M461.4 733.7 Q464.4 747.7 470.4 753.7 T479.4 773.7" fill="none" stroke="#dbc6dd" stroke-width="6" stroke-linecap="round" opacity="0.5" filter="url(#blur1)"/>
<path d="M454.2 713.8 Q457.2 727.8 463.2 733.8 T472.2 753.8" fill="none" stroke="#dbc6dd" stroke-width="6" stroke-linecap="round" opacity="0.5" filter="url(#blur1)"/>
<path d="M585.0 755.0 Q588.0 769.0 594.0 775.0 T603.0 795.0" fill="none" stroke="#dbc6dd" stroke-width="6" stroke-linecap="round" opacity="0.5" filter="url(#blur1)"/>
<path d="M607.0 753.3 Q610.0 767.3 616.0 773.3 T625.0 793.3" fill="none" stroke="#dbc6dd" stroke-width="6" stroke-linecap="round" opacity="0.5" filter="url(#blur1)"/>
<path d="M637.5 810.9 Q640.5 824.9 646.5 830.9 T655.5 850.9" fill="none" stroke="#dbc6dd" stroke-width="6" stroke-linecap="round" opacity="0.5" filter="url(#blur1)"/>
<path d="M375.1 731.2 Q378.1 745.2 384.1 751.2 T393.1 771.2" fill="none" stroke="#dbc6dd" stroke-width="6" stroke-linecap="round" opacity="0.5" filter="url(#blur1)"/>
<path d="M624.4 763.7 Q627.4 777.7 633.4 783.7 T642.4 803.7" fill="none" stroke="#dbc6dd" stroke-width="6" stroke-linecap="round" opacity="0.5" filter="url(#blur1)"/>
<path d="M643.6 754.7 Q646.6 768.7 652.6 774.7 T661.6 794.7" fill="none" stroke="#dbc6dd" stroke-width="6" stroke-linecap="round" opacity="0.5" filter="url(#blur1)"/>
<path d="M395.0 783.7 Q398.0 797.7 404.0 803.7 T413.0 823.7" fill="none" stroke="#dbc6dd" stroke-width="6" stroke-linecap="round" opacity="0.5" filter="url(#blur1)"/>
<path d="M588.3 738.7 Q591.3 752.7 597.3 758.7 T606.3 778.7" fill="none" stroke="#dbc6dd" stroke-width="6" stroke-linecap="round" opacity="0.5" filter="url(#blur1)"/>
<path d="M398.9 746.6 Q401.9 760.6 407.9 766.6 T416.9 786.6" fill="none" stroke="#dbc6dd" stroke-width="6" stroke-linecap="round" opacity="0.5" filter="url(#blur1)"/>
<path d="M639.2 799.8 Q642.2 813.8 648.2 819.8 T657.2 839.8" fill="none" stroke="#dbc6dd" stroke-width="6" stroke-linecap="round" opacity="0.5" filter="url(#blur1)"/>
<path d="M407.3 735.8 Q410.3 749.8 416.3 755.8 T425.3 775.8" fill="none" stroke="#dbc6dd" stroke-width="6" stroke-linecap="round" opacity="0.5" filter="url(#blur1)"/>
<path d="M402.7 712.5 Q405.7 726.5 411.7 732.5 T420.7 752.5" fill="none" stroke="#dbc6dd" stroke-width="6" stroke-linecap="round" opacity="0.5" filter="url(#blur1)"/>
<path d="M402.0 742.5 Q401.2 737.9 392.0 735.0 Q401.6 736.1 404.0 732.4 Q407.0 727.2 405.0 715.0 Q408.8 726.8 413.6 729.9 Q419.8 729.8 430.0 722.0 Q421.0 731.2 420.2 737.5 Q426.8 745.0 442.0 752.7 Q426.0 746.7 417.1 746.1 Q415.8 752.7 419.0 767.0 Q414.0 753.3 409.2 748.4 Q404.1 750.0 396.0 760.0 Q402.7 749.0 402.0 742.5Z" fill="#b595bf" stroke="#b595bf" stroke-width="7" stroke-linejoin="round" opacity="0.55" filter="url(#blur2)"/>
<path d="M480.5 759.8 Q474.8 751.4 460.5 741.8 Q475.7 749.9 485.3 751.2 Q489.1 746.5 490.0 733.4 Q490.9 746.5 494.6 751.2 Q501.3 751.5 513.5 745.0 Q502.2 753.0 499.5 759.3 Q503.9 766.5 517.0 775.0 Q503.1 768.0 495.4 767.3 Q493.4 774.1 495.0 789.0 Q491.6 774.4 486.3 768.3 Q478.7 768.4 466.4 775.8 Q477.7 766.9 480.5 759.8Z" fill="#b595bf" stroke="#b595bf" stroke-width="7" stroke-linejoin="round" opacity="0.55" filter="url(#blur2)"/>
<path d="M432.3 790.2 Q433.1 781.9 426.8 769.0 Q434.7 781.1 440.5 784.5 Q446.6 779.0 453.8 764.8 Q448.2 779.8 448.2 787.8 Q456.2 788.7 471.8 785.2 Q456.6 790.5 450.2 796.4 Q452.1 803.9 462.0 815.0 Q450.9 805.1 443.6 803.1 Q438.6 808.5 434.4 822.6 Q436.8 808.1 434.3 800.7 Q424.9 798.6 408.3 801.5 Q424.4 796.9 432.3 790.2Z" fill="#b595bf" stroke="#b595bf" stroke-width="7" stroke-linejoin="round" opacity="0.55" filter="url(#blur2)"/>
<path d="M509.8 820.8 Q504.9 812.6 490.8 807.4 Q505.5 810.8 512.5 809.7 Q512.8 802.4 507.6 788.0 Q514.4 801.6 520.1 806.5 Q526.5 802.1 535.0 789.0 Q528.1 802.9 528.2 812.0 Q534.7 818.0 549.5 821.8 Q534.4 819.8 527.3 821.6 Q527.6 828.6 534.0 842.0 Q526.0 829.4 520.2 825.5 Q514.6 831.3 508.0 846.0 Q513.0 830.7 509.8 820.8Z" fill="#b595bf" stroke="#b595bf" stroke-width="7" stroke-linejoin="round" opacity="0.55" filter="url(#blur2)"/>
<path d="M465.3 842.6 Q460.5 836.1 447.0 828.5 Q461.3 834.4 469.6 834.0 Q473.5 828.0 474.0 814.0 Q475.3 828.0 479.6 833.8 Q485.7 835.2 497.5 830.0 Q486.6 836.8 484.3 842.4 Q487.9 849.2 500.0 858.0 Q486.9 850.8 478.7 850.7 Q473.3 856.2 470.0 870.0 Q471.5 855.8 469.6 849.9 Q462.9 850.8 450.0 858.0 Q461.9 849.2 465.3 842.6Z" fill="#b595bf" stroke="#b595bf" stroke-width="7" stroke-linejoin="round" opacity="0.55" filter="url(#blur2)"/>
<path d="M396.6 840.4 Q392.6 834.9 380.0 830.0 Q393.2 833.1 399.0 831.3 Q399.9 823.0 395.7 807.4 Q401.6 822.4 407.4 828.6 Q413.1 827.2 421.8 817.5 Q414.5 828.3 414.9 835.1 Q419.2 841.1 432.0 846.0 Q418.6 842.9 411.9 845.3 Q408.8 853.9 410.0 870.0 Q407.0 854.1 402.9 847.0 Q396.1 849.6 385.0 860.0 Q394.7 848.4 396.6 840.4Z" fill="#b595bf" stroke="#b595bf" stroke-width="7" stroke-linejoin="round" opacity="0.55" filter="url(#blur2)"/>
<path d="M541.4 760.0 Q544.5 750.6 538.5 737.6 Q546.0 749.8 550.5 753.4 Q553.6 747.9 557.0 733.4 Q555.4 748.3 557.4 755.0 Q563.7 754.9 576.4 748.5 Q564.7 756.4 562.7 764.8 Q561.9 773.6 570.5 785.6 Q560.6 774.8 554.9 771.8 Q552.0 777.2 550.3 791.4 Q550.3 777.0 547.1 771.0 Q540.3 771.2 527.6 778.0 Q539.3 769.6 541.4 760.0Z" fill="#b595bf" stroke="#b595bf" stroke-width="7" stroke-linejoin="round" opacity="0.55" filter="url(#blur2)"/>
<path d="M583.6 729.4 Q578.5 722.2 565.0 712.0 Q579.5 720.8 588.2 722.8 Q590.6 715.6 590.0 700.0 Q592.4 715.4 597.3 722.5 Q606.0 722.2 620.0 715.0 Q607.0 723.8 602.5 731.2 Q605.0 737.7 616.0 746.0 Q604.0 739.3 597.7 739.3 Q594.4 744.0 594.0 757.0 Q592.6 744.0 587.3 738.6 Q582.2 734.7 571.0 736.7 Q581.8 733.0 583.6 729.4Z" fill="#b595bf" stroke="#b595bf" stroke-width="7" stroke-linejoin="round" opacity="0.55" filter="url(#blur2)"/>
<path d="M631.4 774.5 Q629.8 766.5 618.5 759.5 Q630.7 765.0 635.3 765.3 Q634.1 758.9 627.7 745.0 Q635.6 758.1 641.8 762.5 Q647.7 758.1 655.0 745.0 Q649.3 758.9 649.9 766.7 Q655.9 770.1 670.0 770.0 Q656.1 771.9 650.0 777.2 Q647.8 785.7 652.0 800.0 Q646.2 786.3 640.7 781.4 Q635.6 782.7 627.7 792.3 Q634.1 781.6 631.4 774.5Z" fill="#b595bf" stroke="#b595bf" stroke-width="7" stroke-linejoin="round" opacity="0.55" filter="url(#blur2)"/>
<path d="M593.1 800.1 Q590.5 791.7 579.8 780.5 Q591.8 790.3 598.1 793.1 Q599.5 785.2 598.3 768.7 Q601.3 785.0 604.5 792.2 Q608.9 789.7 616.8 778.8 Q610.4 790.6 613.1 798.8 Q616.4 808.3 629.4 816.7 Q615.5 809.9 607.8 809.4 Q605.5 817.0 606.7 832.7 Q603.7 817.2 598.0 809.9 Q590.6 808.2 578.0 813.3 Q589.9 806.6 593.1 800.1Z" fill="#b595bf" stroke="#b595bf" stroke-width="7" stroke-linejoin="round" opacity="0.55" filter="url(#blur2)"/>
<path d="M564.6 846.3 Q559.2 840.9 545.0 835.0 Q559.8 839.1 567.5 838.1 Q569.1 830.7 566.0 816.0 Q570.9 830.3 575.7 835.6 Q580.8 834.0 589.0 824.0 Q582.2 835.0 584.7 842.7 Q587.4 851.7 600.0 860.0 Q586.6 853.3 578.2 853.5 Q572.9 860.1 570.0 875.0 Q571.1 859.9 569.1 853.1 Q562.5 854.2 550.0 862.0 Q561.5 852.8 564.6 846.3Z" fill="#b595bf" stroke="#b595bf" stroke-width="7" stroke-linejoin="round" opacity="0.55" filter="url(#blur2)"/>
<path d="M636.0 842.0 Q631.7 836.9 619.0 834.0 Q631.9 835.1 637.8 831.3 Q641.4 824.7 640.0 811.0 Q643.2 824.3 646.9 828.8 Q652.6 826.0 662.0 815.0 Q654.0 827.0 652.9 833.3 Q658.2 835.6 672.0 835.0 Q658.4 837.4 653.1 842.3 Q653.1 851.1 660.0 865.0 Q651.5 851.9 644.5 847.5 Q638.1 850.5 630.0 862.0 Q636.5 849.5 636.0 842.0Z" fill="#b595bf" stroke="#b595bf" stroke-width="7" stroke-linejoin="round" opacity="0.55" filter="url(#blur2)"/>
<path d="M520.5 717.4 Q519.5 706.8 510.0 700.0 Q520.5 705.2 530.0 701.1 Q539.5 705.2 550.0 700.0 Q540.5 706.8 539.5 717.4 Q530.9 724.5 530.0 737.0 Q529.1 724.5 520.5 717.4Z" fill="#b595bf" stroke="#b595bf" stroke-width="7" stroke-linejoin="round" opacity="0.55" filter="url(#blur2)"/>
<path d="M634.8 719.9 Q634.4 708.7 625.0 700.0 Q635.6 707.3 645.0 705.1 Q654.4 707.3 665.0 700.0 Q655.6 708.7 654.4 721.6 Q643.9 727.7 641.0 739.0 Q642.1 727.3 634.8 719.9Z" fill="#b595bf" stroke="#b595bf" stroke-width="7" stroke-linejoin="round" opacity="0.55" filter="url(#blur2)"/>
<path d="M430.2 716.8 Q429.5 706.8 420.0 700.0 Q430.5 705.2 440.0 701.1 Q449.5 705.2 460.0 700.0 Q450.5 706.8 449.1 718.0 Q439.4 723.6 437.0 735.0 Q437.6 723.4 430.2 716.8Z" fill="#b595bf" stroke="#b595bf" stroke-width="7" stroke-linejoin="round" opacity="0.55" filter="url(#blur2)"/>
<path d="M402.0 742.5 Q401.2 737.9 392.0 735.0 Q401.6 736.1 404.0 732.4 Q407.0 727.2 405.0 715.0 Q408.8 726.8 413.6 729.9 Q419.8 729.8 430.0 722.0 Q421.0 731.2 420.2 737.5 Q426.8 745.0 442.0 752.7 Q426.0 746.7 417.1 746.1 Q415.8 752.7 419.0 767.0 Q414.0 753.3 409.2 748.4 Q404.1 750.0 396.0 760.0 Q402.7 749.0 402.0 742.5Z" fill="#c87191" stroke="#c87191" stroke-width="3.600" stroke-linejoin="round"/><path d="M402.0 742.5 Q401.2 737.9 392.0 735.0 Q401.6 736.1 404.0 732.4 Q407.0 727.2 405.0 715.0 Q408.8 726.8 413.6 729.9 Q419.8 729.8 430.0 722.0 Q421.0 731.2 420.2 737.5 Q426.8 745.0 442.0 752.7 Q426.0 746.7 417.1 746.1 Q415.8 752.7 419.0 767.0 Q414.0 753.3 409.2 748.4 Q404.1 750.0 396.0 760.0 Q402.7 749.0 402.0 742.5Z" fill="#e18da7" stroke="#e18da7" stroke-width="2" stroke-linejoin="round"/><circle cx="410.8" cy="739.0" r="11.5" fill="#eb9cb2" opacity="0.6" filter="url(#blur2)"/><ellipse cx="410.8" cy="739.0" rx="5.200" ry="6.800" transform="rotate(-20 410.8 739.0)" fill="url(#gnuc)" stroke="#a070b4" stroke-width="0.6"/>
<path d="M480.5 759.8 Q474.8 751.4 460.5 741.8 Q475.7 749.9 485.3 751.2 Q489.1 746.5 490.0 733.4 Q490.9 746.5 494.6 751.2 Q501.3 751.5 513.5 745.0 Q502.2 753.0 499.5 759.3 Q503.9 766.5 517.0 775.0 Q503.1 768.0 495.4 767.3 Q493.4 774.1 495.0 789.0 Q491.6 774.4 486.3 768.3 Q478.7 768.4 466.4 775.8 Q477.7 766.9 480.5 759.8Z" fill="#c87191" stroke="#c87191" stroke-width="3.600" stroke-linejoin="round"/><path d="M480.5 759.8 Q474.8 751.4 460.5 741.8 Q475.7 749.9 485.3 751.2 Q489.1 746.5 490.0 733.4 Q490.9 746.5 494.6 751.2 Q501.3 751.5 513.5 745.0 Q502.2 753.0 499.5 759.3 Q503.9 766.5 517.0 775.0 Q503.1 768.0 495.4 767.3 Q493.4 774.1 495.0 789.0 Q491.6 774.4 486.3 768.3 Q478.7 768.4 466.4 775.8 Q477.7 766.9 480.5 759.8Z" fill="#e18da7" stroke="#e18da7" stroke-width="2" stroke-linejoin="round"/><circle cx="490.0" cy="759.5" r="11.5" fill="#eb9cb2" opacity="0.6" filter="url(#blur2)"/><ellipse cx="490.0" cy="759.5" rx="5.200" ry="6.800" transform="rotate(15 490.0 759.5)" fill="url(#gnuc)" stroke="#a070b4" stroke-width="0.6"/>
<path d="M432.3 790.2 Q433.1 781.9 426.8 769.0 Q434.7 781.1 440.5 784.5 Q446.6 779.0 453.8 764.8 Q448.2 779.8 448.2 787.8 Q456.2 788.7 471.8 785.2 Q456.6 790.5 450.2 796.4 Q452.1 803.9 462.0 815.0 Q450.9 805.1 443.6 803.1 Q438.6 808.5 434.4 822.6 Q436.8 808.1 434.3 800.7 Q424.9 798.6 408.3 801.5 Q424.4 796.9 432.3 790.2Z" fill="#c87191" stroke="#c87191" stroke-width="3.600" stroke-linejoin="round"/><path d="M432.3 790.2 Q433.1 781.9 426.8 769.0 Q434.7 781.1 440.5 784.5 Q446.6 779.0 453.8 764.8 Q448.2 779.8 448.2 787.8 Q456.2 788.7 471.8 785.2 Q456.6 790.5 450.2 796.4 Q452.1 803.9 462.0 815.0 Q450.9 805.1 443.6 803.1 Q438.6 808.5 434.4 822.6 Q436.8 808.1 434.3 800.7 Q424.9 798.6 408.3 801.5 Q424.4 796.9 432.3 790.2Z" fill="#e18da7" stroke="#e18da7" stroke-width="2" stroke-linejoin="round"/><circle cx="441.0" cy="794.0" r="11.5" fill="#eb9cb2" opacity="0.6" filter="url(#blur2)"/><ellipse cx="441.0" cy="794.0" rx="5.200" ry="6.800" transform="rotate(35 441.0 794.0)" fill="url(#gnuc)" stroke="#a070b4" stroke-width="0.6"/>
<path d="M509.8 820.8 Q504.9 812.6 490.8 807.4 Q505.5 810.8 512.5 809.7 Q512.8 802.4 507.6 788.0 Q514.4 801.6 520.1 806.5 Q526.5 802.1 535.0 789.0 Q528.1 802.9 528.2 812.0 Q534.7 818.0 549.5 821.8 Q534.4 819.8 527.3 821.6 Q527.6 828.6 534.0 842.0 Q526.0 829.4 520.2 825.5 Q514.6 831.3 508.0 846.0 Q513.0 830.7 509.8 820.8Z" fill="#c87191" stroke="#c87191" stroke-width="3.600" stroke-linejoin="round"/><path d="M509.8 820.8 Q504.9 812.6 490.8 807.4 Q505.5 810.8 512.5 809.7 Q512.8 802.4 507.6 788.0 Q514.4 801.6 520.1 806.5 Q526.5 802.1 535.0 789.0 Q528.1 802.9 528.2 812.0 Q534.7 818.0 549.5 821.8 Q534.4 819.8 527.3 821.6 Q527.6 828.6 534.0 842.0 Q526.0 829.4 520.2 825.5 Q514.6 831.3 508.0 846.0 Q513.0 830.7 509.8 820.8Z" fill="#e18da7" stroke="#e18da7" stroke-width="2" stroke-linejoin="round"/><circle cx="519.6" cy="816.0" r="11.5" fill="#eb9cb2" opacity="0.6" filter="url(#blur2)"/><ellipse cx="519.6" cy="816.0" rx="5.200" ry="6.800" transform="rotate(-15 519.6 816.0)" fill="url(#gnuc)" stroke="#a070b4" stroke-width="0.6"/>
<path d="M465.3 842.6 Q460.5 836.1 447.0 828.5 Q461.3 834.4 469.6 834.0 Q473.5 828.0 474.0 814.0 Q475.3 828.0 479.6 833.8 Q485.7 835.2 497.5 830.0 Q486.6 836.8 484.3 842.4 Q487.9 849.2 500.0 858.0 Q486.9 850.8 478.7 850.7 Q473.3 856.2 470.0 870.0 Q471.5 855.8 469.6 849.9 Q462.9 850.8 450.0 858.0 Q461.9 849.2 465.3 842.6Z" fill="#c87191" stroke="#c87191" stroke-width="3.600" stroke-linejoin="round"/><path d="M465.3 842.6 Q460.5 836.1 447.0 828.5 Q461.3 834.4 469.6 834.0 Q473.5 828.0 474.0 814.0 Q475.3 828.0 479.6 833.8 Q485.7 835.2 497.5 830.0 Q486.6 836.8 484.3 842.4 Q487.9 849.2 500.0 858.0 Q486.9 850.8 478.7 850.7 Q473.3 856.2 470.0 870.0 Q471.5 855.8 469.6 849.9 Q462.9 850.8 450.0 858.0 Q461.9 849.2 465.3 842.6Z" fill="#e18da7" stroke="#e18da7" stroke-width="2" stroke-linejoin="round"/><circle cx="474.8" cy="842.0" r="11.5" fill="#eb9cb2" opacity="0.6" filter="url(#blur2)"/><ellipse cx="474.8" cy="842.0" rx="5.200" ry="6.800" transform="rotate(80 474.8 842.0)" fill="url(#gnuc)" stroke="#a070b4" stroke-width="0.6"/>
<path d="M396.6 840.4 Q392.6 834.9 380.0 830.0 Q393.2 833.1 399.0 831.3 Q399.9 823.0 395.7 807.4 Q401.6 822.4 407.4 828.6 Q413.1 827.2 421.8 817.5 Q414.5 828.3 414.9 835.1 Q419.2 841.1 432.0 846.0 Q418.6 842.9 411.9 845.3 Q408.8 853.9 410.0 870.0 Q407.0 854.1 402.9 847.0 Q396.1 849.6 385.0 860.0 Q394.7 848.4 396.6 840.4Z" fill="#c87191" stroke="#c87191" stroke-width="3.600" stroke-linejoin="round"/><path d="M396.6 840.4 Q392.6 834.9 380.0 830.0 Q393.2 833.1 399.0 831.3 Q399.9 823.0 395.7 807.4 Q401.6 822.4 407.4 828.6 Q413.1 827.2 421.8 817.5 Q414.5 828.3 414.9 835.1 Q419.2 841.1 432.0 846.0 Q418.6 842.9 411.9 845.3 Q408.8 853.9 410.0 870.0 Q407.0 854.1 402.9 847.0 Q396.1 849.6 385.0 860.0 Q394.7 848.4 396.6 840.4Z" fill="#e18da7" stroke="#e18da7" stroke-width="2" stroke-linejoin="round"/><circle cx="405.8" cy="838.0" r="11.5" fill="#eb9cb2" opacity="0.6" filter="url(#blur2)"/><ellipse cx="405.8" cy="838.0" rx="5.200" ry="6.800" transform="rotate(-30 405.8 838.0)" fill="url(#gnuc)" stroke="#a070b4" stroke-width="0.6"/>
<path d="M541.4 760.0 Q544.5 750.6 538.5 737.6 Q546.0 749.8 550.5 753.4 Q553.6 747.9 557.0 733.4 Q555.4 748.3 557.4 755.0 Q563.7 754.9 576.4 748.5 Q564.7 756.4 562.7 764.8 Q561.9 773.6 570.5 785.6 Q560.6 774.8 554.9 771.8 Q552.0 777.2 550.3 791.4 Q550.3 777.0 547.1 771.0 Q540.3 771.2 527.6 778.0 Q539.3 769.6 541.4 760.0Z" fill="#c87191" stroke="#c87191" stroke-width="3.600" stroke-linejoin="round"/><path d="M541.4 760.0 Q544.5 750.6 538.5 737.6 Q546.0 749.8 550.5 753.4 Q553.6 747.9 557.0 733.4 Q555.4 748.3 557.4 755.0 Q563.7 754.9 576.4 748.5 Q564.7 756.4 562.7 764.8 Q561.9 773.6 570.5 785.6 Q560.6 774.8 554.9 771.8 Q552.0 777.2 550.3 791.4 Q550.3 777.0 547.1 771.0 Q540.3 771.2 527.6 778.0 Q539.3 769.6 541.4 760.0Z" fill="#e18da7" stroke="#e18da7" stroke-width="2" stroke-linejoin="round"/><circle cx="552.0" cy="762.8" r="11.5" fill="#eb9cb2" opacity="0.6" filter="url(#blur2)"/><ellipse cx="552.0" cy="762.8" rx="5.200" ry="6.800" transform="rotate(10 552.0 762.8)" fill="url(#gnuc)" stroke="#a070b4" stroke-width="0.6"/>
<path d="M583.6 729.4 Q578.5 722.2 565.0 712.0 Q579.5 720.8 588.2 722.8 Q590.6 715.6 590.0 700.0 Q592.4 715.4 597.3 722.5 Q606.0 722.2 620.0 715.0 Q607.0 723.8 602.5 731.2 Q605.0 737.7 616.0 746.0 Q604.0 739.3 597.7 739.3 Q594.4 744.0 594.0 757.0 Q592.6 744.0 587.3 738.6 Q582.2 734.7 571.0 736.7 Q581.8 733.0 583.6 729.4Z" fill="#c87191" stroke="#c87191" stroke-width="3.600" stroke-linejoin="round"/><path d="M583.6 729.4 Q578.5 722.2 565.0 712.0 Q579.5 720.8 588.2 722.8 Q590.6 715.6 590.0 700.0 Q592.4 715.4 597.3 722.5 Q606.0 722.2 620.0 715.0 Q607.0 723.8 602.5 731.2 Q605.0 737.7 616.0 746.0 Q604.0 739.3 597.7 739.3 Q594.4 744.0 594.0 757.0 Q592.6 744.0 587.3 738.6 Q582.2 734.7 571.0 736.7 Q581.8 733.0 583.6 729.4Z" fill="#e18da7" stroke="#e18da7" stroke-width="2" stroke-linejoin="round"/><circle cx="593.0" cy="731.0" r="11.5" fill="#eb9cb2" opacity="0.6" filter="url(#blur2)"/><ellipse cx="593.0" cy="731.0" rx="5.200" ry="6.800" transform="rotate(80 593.0 731.0)" fill="url(#gnuc)" stroke="#a070b4" stroke-width="0.6"/>
<path d="M631.4 774.5 Q629.8 766.5 618.5 759.5 Q630.7 765.0 635.3 765.3 Q634.1 758.9 627.7 745.0 Q635.6 758.1 641.8 762.5 Q647.7 758.1 655.0 745.0 Q649.3 758.9 649.9 766.7 Q655.9 770.1 670.0 770.0 Q656.1 771.9 650.0 777.2 Q647.8 785.7 652.0 800.0 Q646.2 786.3 640.7 781.4 Q635.6 782.7 627.7 792.3 Q634.1 781.6 631.4 774.5Z" fill="#c87191" stroke="#c87191" stroke-width="3.600" stroke-linejoin="round"/><path d="M631.4 774.5 Q629.8 766.5 618.5 759.5 Q630.7 765.0 635.3 765.3 Q634.1 758.9 627.7 745.0 Q635.6 758.1 641.8 762.5 Q647.7 758.1 655.0 745.0 Q649.3 758.9 649.9 766.7 Q655.9 770.1 670.0 770.0 Q656.1 771.9 650.0 777.2 Q647.8 785.7 652.0 800.0 Q646.2 786.3 640.7 781.4 Q635.6 782.7 627.7 792.3 Q634.1 781.6 631.4 774.5Z" fill="#e18da7" stroke="#e18da7" stroke-width="2" stroke-linejoin="round"/><circle cx="642.0" cy="772.0" r="11.5" fill="#eb9cb2" opacity="0.6" filter="url(#blur2)"/><ellipse cx="642.0" cy="772.0" rx="5.200" ry="6.800" transform="rotate(0 642.0 772.0)" fill="url(#gnuc)" stroke="#a070b4" stroke-width="0.6"/>
<path d="M593.1 800.1 Q590.5 791.7 579.8 780.5 Q591.8 790.3 598.1 793.1 Q599.5 785.2 598.3 768.7 Q601.3 785.0 604.5 792.2 Q608.9 789.7 616.8 778.8 Q610.4 790.6 613.1 798.8 Q616.4 808.3 629.4 816.7 Q615.5 809.9 607.8 809.4 Q605.5 817.0 606.7 832.7 Q603.7 817.2 598.0 809.9 Q590.6 808.2 578.0 813.3 Q589.9 806.6 593.1 800.1Z" fill="#c87191" stroke="#c87191" stroke-width="3.600" stroke-linejoin="round"/><path d="M593.1 800.1 Q590.5 791.7 579.8 780.5 Q591.8 790.3 598.1 793.1 Q599.5 785.2 598.3 768.7 Q601.3 785.0 604.5 792.2 Q608.9 789.7 616.8 778.8 Q610.4 790.6 613.1 798.8 Q616.4 808.3 629.4 816.7 Q615.5 809.9 607.8 809.4 Q605.5 817.0 606.7 832.7 Q603.7 817.2 598.0 809.9 Q590.6 808.2 578.0 813.3 Q589.9 806.6 593.1 800.1Z" fill="#e18da7" stroke="#e18da7" stroke-width="2" stroke-linejoin="round"/><circle cx="602.5" cy="801.5" r="11.5" fill="#eb9cb2" opacity="0.6" filter="url(#blur2)"/><ellipse cx="602.5" cy="801.5" rx="5.200" ry="6.800" transform="rotate(-20 602.5 801.5)" fill="url(#gnuc)" stroke="#a070b4" stroke-width="0.6"/>
<path d="M564.6 846.3 Q559.2 840.9 545.0 835.0 Q559.8 839.1 567.5 838.1 Q569.1 830.7 566.0 816.0 Q570.9 830.3 575.7 835.6 Q580.8 834.0 589.0 824.0 Q582.2 835.0 584.7 842.7 Q587.4 851.7 600.0 860.0 Q586.6 853.3 578.2 853.5 Q572.9 860.1 570.0 875.0 Q571.1 859.9 569.1 853.1 Q562.5 854.2 550.0 862.0 Q561.5 852.8 564.6 846.3Z" fill="#c87191" stroke="#c87191" stroke-width="3.600" stroke-linejoin="round"/><path d="M564.6 846.3 Q559.2 840.9 545.0 835.0 Q559.8 839.1 567.5 838.1 Q569.1 830.7 566.0 816.0 Q570.9 830.3 575.7 835.6 Q580.8 834.0 589.0 824.0 Q582.2 835.0 584.7 842.7 Q587.4 851.7 600.0 860.0 Q586.6 853.3 578.2 853.5 Q572.9 860.1 570.0 875.0 Q571.1 859.9 569.1 853.1 Q562.5 854.2 550.0 862.0 Q561.5 852.8 564.6 846.3Z" fill="#e18da7" stroke="#e18da7" stroke-width="2" stroke-linejoin="round"/><circle cx="574.0" cy="845.0" r="11.5" fill="#eb9cb2" opacity="0.6" filter="url(#blur2)"/><ellipse cx="574.0" cy="845.0" rx="5.200" ry="6.800" transform="rotate(80 574.0 845.0)" fill="url(#gnuc)" stroke="#a070b4" stroke-width="0.6"/>
<path d="M636.0 842.0 Q631.7 836.9 619.0 834.0 Q631.9 835.1 637.8 831.3 Q641.4 824.7 640.0 811.0 Q643.2 824.3 646.9 828.8 Q652.6 826.0 662.0 815.0 Q654.0 827.0 652.9 833.3 Q658.2 835.6 672.0 835.0 Q658.4 837.4 653.1 842.3 Q653.1 851.1 660.0 865.0 Q651.5 851.9 644.5 847.5 Q638.1 850.5 630.0 862.0 Q636.5 849.5 636.0 842.0Z" fill="#c87191" stroke="#c87191" stroke-width="3.600" stroke-linejoin="round"/><path d="M636.0 842.0 Q631.7 836.9 619.0 834.0 Q631.9 835.1 637.8 831.3 Q641.4 824.7 640.0 811.0 Q643.2 824.3 646.9 828.8 Q652.6 826.0 662.0 815.0 Q654.0 827.0 652.9 833.3 Q658.2 835.6 672.0 835.0 Q658.4 837.4 653.1 842.3 Q653.1 851.1 660.0 865.0 Q651.5 851.9 644.5 847.5 Q638.1 850.5 630.0 862.0 Q636.5 849.5 636.0 842.0Z" fill="#e18da7" stroke="#e18da7" stroke-width="2" stroke-linejoin="round"/><circle cx="644.6" cy="838.0" r="11.5" fill="#eb9cb2" opacity="0.6" filter="url(#blur2)"/><ellipse cx="644.6" cy="838.0" rx="5.200" ry="6.800" transform="rotate(40 644.6 838.0)" fill="url(#gnuc)" stroke="#a070b4" stroke-width="0.6"/>
<path d="M520.5 717.4 Q519.5 706.8 510.0 700.0 Q520.5 705.2 530.0 701.1 Q539.5 705.2 550.0 700.0 Q540.5 706.8 539.5 717.4 Q530.9 724.5 530.0 737.0 Q529.1 724.5 520.5 717.4Z" fill="#c87191" stroke="#c87191" stroke-width="3.600" stroke-linejoin="round"/><path d="M520.5 717.4 Q519.5 706.8 510.0 700.0 Q520.5 705.2 530.0 701.1 Q539.5 705.2 550.0 700.0 Q540.5 706.8 539.5 717.4 Q530.9 724.5 530.0 737.0 Q529.1 724.5 520.5 717.4Z" fill="#e18da7" stroke="#e18da7" stroke-width="2" stroke-linejoin="round"/><circle cx="530.0" cy="712.0" r="11.5" fill="#eb9cb2" opacity="0.6" filter="url(#blur2)"/><ellipse cx="530.0" cy="712.0" rx="5.200" ry="6.800" transform="rotate(0 530.0 712.0)" fill="url(#gnuc)" stroke="#a070b4" stroke-width="0.6"/>
<path d="M634.8 719.9 Q634.4 708.7 625.0 700.0 Q635.6 707.3 645.0 705.1 Q654.4 707.3 665.0 700.0 Q655.6 708.7 654.4 721.6 Q643.9 727.7 641.0 739.0 Q642.1 727.3 634.8 719.9Z" fill="#c87191" stroke="#c87191" stroke-width="3.600" stroke-linejoin="round"/><path d="M634.8 719.9 Q634.4 708.7 625.0 700.0 Q635.6 707.3 645.0 705.1 Q654.4 707.3 665.0 700.0 Q655.6 708.7 654.4 721.6 Q643.9 727.7 641.0 739.0 Q642.1 727.3 634.8 719.9Z" fill="#e18da7" stroke="#e18da7" stroke-width="2" stroke-linejoin="round"/><circle cx="645.0" cy="716.0" r="11.5" fill="#eb9cb2" opacity="0.6" filter="url(#blur2)"/><ellipse cx="645.0" cy="716.0" rx="5.200" ry="6.800" transform="rotate(0 645.0 716.0)" fill="url(#gnuc)" stroke="#a070b4" stroke-width="0.6"/>
<path d="M430.2 716.8 Q429.5 706.8 420.0 700.0 Q430.5 705.2 440.0 701.1 Q449.5 705.2 460.0 700.0 Q450.5 706.8 449.1 718.0 Q439.4 723.6 437.0 735.0 Q437.6 723.4 430.2 716.8Z" fill="#c87191" stroke="#c87191" stroke-width="3.600" stroke-linejoin="round"/><path d="M430.2 716.8 Q429.5 706.8 420.0 700.0 Q430.5 705.2 440.0 701.1 Q449.5 705.2 460.0 700.0 Q450.5 706.8 449.1 718.0 Q439.4 723.6 437.0 735.0 Q437.6 723.4 430.2 716.8Z" fill="#e18da7" stroke="#e18da7" stroke-width="2" stroke-linejoin="round"/><circle cx="440.0" cy="712.0" r="11.5" fill="#eb9cb2" opacity="0.6" filter="url(#blur2)"/><ellipse cx="440.0" cy="712.0" rx="5.200" ry="6.800" transform="rotate(0 440.0 712.0)" fill="url(#gnuc)" stroke="#a070b4" stroke-width="0.6"/>
</g>
<path d="M393.900 732.700V697.800a16 16 0 0 1 16-16H631.500a16 16 0 0 1 16 16V732.700Z" fill="#f3efe9"/>
</g>
<g font-family="'Liberation Sans','Noto Sans CJK KR','NanumGothic',sans-serif">
<text transform="translate(179 211) scale(0.931 1)" font-size="18.9" fill="#1f3a5c" text-anchor="middle" font-weight="400" >주사 전 지방세포의 모습</text>
<text transform="translate(596 213.5) scale(0.931 1)" font-size="18.9" fill="#1f3a5c" text-anchor="middle" font-weight="400" >주사 후 지방세포막 파괴</text>
<text transform="translate(522.4 715) scale(0.937 1)" font-size="18.9" fill="#1f3a5c" text-anchor="middle" font-weight="400" >주사부위에 콜라겐 합성</text>
<text x="148" y="413.5" font-size="13.2" fill="#1f3a5c" text-anchor="middle" font-weight="400" >직접적인 효과</text>
<text x="511" y="413.5" font-size="13.2" fill="#1f3a5c" text-anchor="middle" font-weight="400" >간접적인 효과</text>
<text x="232.8" y="493.3" font-size="14.6" fill="#ffffff" text-anchor="middle" font-weight="300" >+1 일차</text>
<text x="304.8" y="493.3" font-size="14.6" fill="#ffffff" text-anchor="middle" font-weight="300" >+2 일차</text>
<text x="377" y="495.9" font-size="14.6" fill="#ffffff" text-anchor="middle" font-weight="300" >+5일차</text>
<text x="449.2" y="494.7" font-size="14.6" fill="#ffffff" text-anchor="middle" font-weight="300" >+7일차</text>
<text x="520.8" y="495.4" font-size="14.6" fill="#ffffff" text-anchor="middle" font-weight="300" >+21일차</text>
<text x="590.6" y="495.4" font-size="14.6" fill="#ffffff" text-anchor="middle" font-weight="300" >+28일차</text>
<text x="670.5" y="494.4" font-size="14.6" fill="#ffffff" text-anchor="middle" font-weight="300" >+28일 이후</text>
<text x="720" y="583.5" font-size="14.9" fill="#1f3a5c" text-anchor="end" font-weight="400" >다양한 효과를 기대</text>
<text x="418.5" y="871" font-size="14.1" fill="#2b2b2b"><tspan font-size="19" dy="1.5">•</tspan><tspan dy="-1.5" dx="4.5">피부 탄력도 고민이었다면</tspan></text>
<text x="429" y="890.5" font-size="14.1" fill="#2b2b2b" text-anchor="start" font-weight="400" >탄력 개선 효과를 기대할 수 있음</text>
</g>
</svg>
</body></html>
